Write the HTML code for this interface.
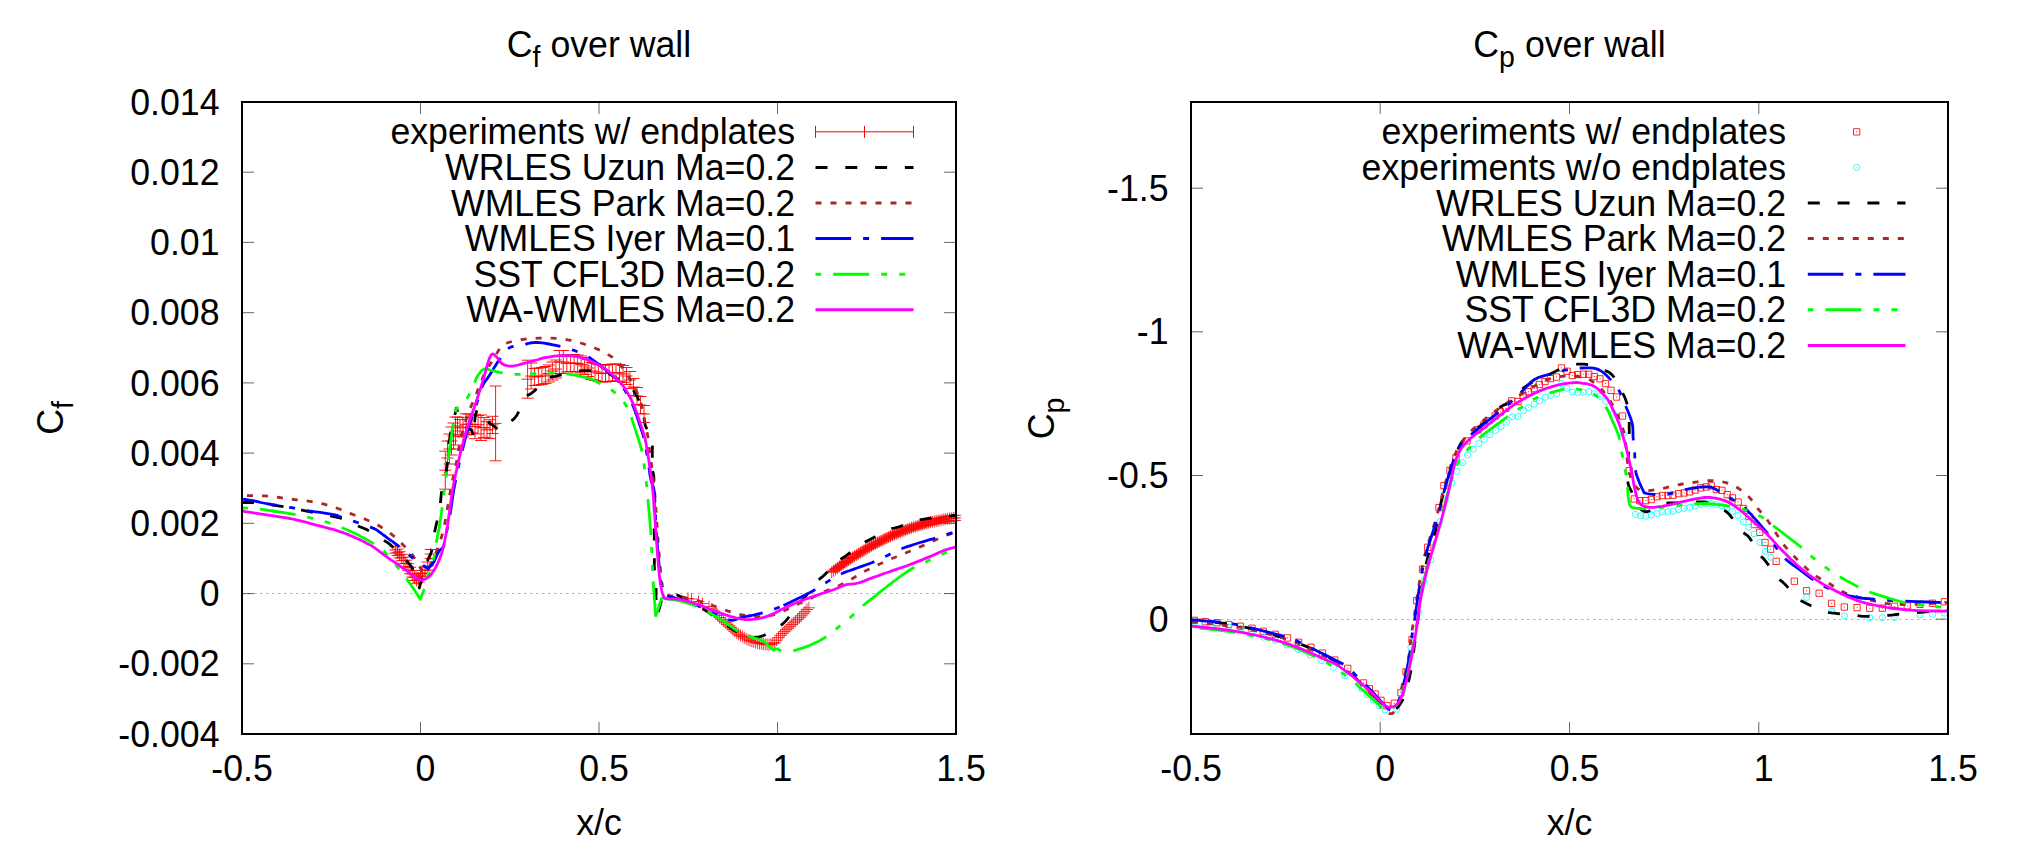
<!DOCTYPE html>
<html><head><meta charset="utf-8"><title>Cf and Cp over wall</title>
<style>html,body{margin:0;padding:0;background:#fff;}svg{display:block;}text{font-family:"Liberation Sans", Arial, sans-serif;font-size:35.7px;fill:#000;}</style>
</head><body>
<svg width="2019" height="858" viewBox="0 0 2019 858">
<rect width="2019" height="858" fill="#fff"/>
<defs><clipPath id="cl"><rect x="242" y="102" width="714" height="632"/></clipPath>
<clipPath id="cr"><rect x="1191" y="102" width="757" height="632"/></clipPath></defs>
<line x1="242" y1="593.5" x2="956" y2="593.5" stroke="#b4b4b4" stroke-width="1" stroke-dasharray="2.5,3.5"/>
<line x1="420.5" y1="734" x2="420.5" y2="722" stroke="#000" stroke-opacity="0.6" stroke-width="1"/>
<line x1="420.5" y1="102" x2="420.5" y2="114" stroke="#000" stroke-opacity="0.6" stroke-width="1"/>
<line x1="599.0" y1="734" x2="599.0" y2="722" stroke="#000" stroke-opacity="0.6" stroke-width="1"/>
<line x1="599.0" y1="102" x2="599.0" y2="114" stroke="#000" stroke-opacity="0.6" stroke-width="1"/>
<line x1="777.5" y1="734" x2="777.5" y2="722" stroke="#000" stroke-opacity="0.6" stroke-width="1"/>
<line x1="777.5" y1="102" x2="777.5" y2="114" stroke="#000" stroke-opacity="0.6" stroke-width="1"/>
<line x1="242" y1="172.2" x2="254" y2="172.2" stroke="#000" stroke-opacity="0.6" stroke-width="1"/>
<line x1="956" y1="172.2" x2="944" y2="172.2" stroke="#000" stroke-opacity="0.6" stroke-width="1"/>
<line x1="242" y1="242.4" x2="254" y2="242.4" stroke="#000" stroke-opacity="0.6" stroke-width="1"/>
<line x1="956" y1="242.4" x2="944" y2="242.4" stroke="#000" stroke-opacity="0.6" stroke-width="1"/>
<line x1="242" y1="312.7" x2="254" y2="312.7" stroke="#000" stroke-opacity="0.6" stroke-width="1"/>
<line x1="956" y1="312.7" x2="944" y2="312.7" stroke="#000" stroke-opacity="0.6" stroke-width="1"/>
<line x1="242" y1="382.9" x2="254" y2="382.9" stroke="#000" stroke-opacity="0.6" stroke-width="1"/>
<line x1="956" y1="382.9" x2="944" y2="382.9" stroke="#000" stroke-opacity="0.6" stroke-width="1"/>
<line x1="242" y1="453.1" x2="254" y2="453.1" stroke="#000" stroke-opacity="0.6" stroke-width="1"/>
<line x1="956" y1="453.1" x2="944" y2="453.1" stroke="#000" stroke-opacity="0.6" stroke-width="1"/>
<line x1="242" y1="523.3" x2="254" y2="523.3" stroke="#000" stroke-opacity="0.6" stroke-width="1"/>
<line x1="956" y1="523.3" x2="944" y2="523.3" stroke="#000" stroke-opacity="0.6" stroke-width="1"/>
<line x1="242" y1="593.6" x2="254" y2="593.6" stroke="#000" stroke-opacity="0.6" stroke-width="1"/>
<line x1="956" y1="593.6" x2="944" y2="593.6" stroke="#000" stroke-opacity="0.6" stroke-width="1"/>
<line x1="242" y1="663.8" x2="254" y2="663.8" stroke="#000" stroke-opacity="0.6" stroke-width="1"/>
<line x1="956" y1="663.8" x2="944" y2="663.8" stroke="#000" stroke-opacity="0.6" stroke-width="1"/>
<text transform="translate(242.0,781) scale(1.0,1.06)" text-anchor="middle" xml:space="preserve">-0.5</text>
<text transform="translate(420.5,781) scale(1.0,1.06)" text-anchor="middle" xml:space="preserve"> 0</text>
<text transform="translate(599.0,781) scale(1.0,1.06)" text-anchor="middle" xml:space="preserve"> 0.5</text>
<text transform="translate(777.5,781) scale(1.0,1.06)" text-anchor="middle" xml:space="preserve"> 1</text>
<text transform="translate(956.0,781) scale(1.0,1.06)" text-anchor="middle" xml:space="preserve"> 1.5</text>
<text transform="translate(219.5,114.6) scale(1.0,1.06)" text-anchor="end" xml:space="preserve">0.014</text>
<text transform="translate(219.5,184.8) scale(1.0,1.06)" text-anchor="end" xml:space="preserve">0.012</text>
<text transform="translate(219.5,255.0) scale(1.0,1.06)" text-anchor="end" xml:space="preserve">0.01</text>
<text transform="translate(219.5,325.3) scale(1.0,1.06)" text-anchor="end" xml:space="preserve">0.008</text>
<text transform="translate(219.5,395.5) scale(1.0,1.06)" text-anchor="end" xml:space="preserve">0.006</text>
<text transform="translate(219.5,465.7) scale(1.0,1.06)" text-anchor="end" xml:space="preserve">0.004</text>
<text transform="translate(219.5,535.9) scale(1.0,1.06)" text-anchor="end" xml:space="preserve">0.002</text>
<text transform="translate(219.5,606.2) scale(1.0,1.06)" text-anchor="end" xml:space="preserve">0</text>
<text transform="translate(219.5,676.4) scale(1.0,1.06)" text-anchor="end" xml:space="preserve">-0.002</text>
<text transform="translate(219.5,746.6) scale(1.0,1.06)" text-anchor="end" xml:space="preserve">-0.004</text>
<text transform="translate(599,57) scale(1.0,1.06)" text-anchor="middle" xml:space="preserve">C<tspan font-size="28.5" dy="9.5">f</tspan><tspan dy="-9.5"> over wall</tspan></text>
<text transform="translate(62.5,418) rotate(-90) scale(1.0,1.06)" text-anchor="middle" xml:space="preserve">C<tspan font-size="28.5" dy="9.5">f</tspan></text>
<text transform="translate(599,835) scale(1.0,1.06)" text-anchor="middle" xml:space="preserve">x/c</text>
<path d="M389.4,550.0h12.0M395.4,544.0v12.0M389.4,546.8h12.0M389.4,553.2h12.0M391.5,552.4h12.0M397.5,546.4v12.0M391.5,549.2h12.0M391.5,555.6h12.0M393.6,554.9h12.0M399.6,548.9v12.0M393.6,551.7h12.0M393.6,558.1h12.0M395.7,557.5h12.0M401.7,551.5v12.0M395.7,554.3h12.0M395.7,560.7h12.0M397.8,560.4h12.0M403.8,554.4v12.0M397.8,557.2h12.0M397.8,563.6h12.0M399.9,563.4h12.0M405.9,557.4v12.0M399.9,560.2h12.0M399.9,566.6h12.0M402.0,566.9h12.0M408.0,560.9v12.0M402.0,563.7h12.0M402.0,570.1h12.0M404.1,570.5h12.0M410.1,564.5v12.0M404.1,567.3h12.0M404.1,573.7h12.0M406.2,573.9h12.0M412.2,567.9v12.0M406.2,570.7h12.0M406.2,577.1h12.0M408.3,577.2h12.0M414.3,571.2v12.0M408.3,574.0h12.0M408.3,580.4h12.0M410.4,580.5h12.0M416.4,574.5v12.0M410.4,577.3h12.0M410.4,583.7h12.0M412.5,579.0h12.0M418.5,573.0v12.0M412.5,575.8h12.0M412.5,582.2h12.0M414.5,576.0h12.0M420.5,570.0v12.0M414.5,572.8h12.0M414.5,579.2h12.0M416.5,573.5h12.0M422.5,567.5v12.0M416.5,570.3h12.0M416.5,576.7h12.0M419.0,570.5h12.0M425.0,564.5v12.0M419.0,567.0h12.0M419.0,574.0h12.0M421.6,566.0h12.0M427.6,560.0v12.0M421.6,562.0h12.0M421.6,570.0h12.0M424.7,554.0h12.0M430.7,548.0v12.0M424.7,549.5h12.0M424.7,558.5h12.0M439.3,470.2h12.0M445.3,451.2v38.0M439.3,451.2h12.0M439.3,489.2h12.0M441.5,458.0h12.0M447.5,441.0v34.0M441.5,441.0h12.0M441.5,475.0h12.0M443.5,449.0h12.0M449.5,434.0v30.0M443.5,434.0h12.0M443.5,464.0h12.0M445.5,441.0h12.0M451.5,427.0v28.0M445.5,427.0h12.0M445.5,455.0h12.0M447.5,436.0h12.0M453.5,423.0v26.0M447.5,423.0h12.0M447.5,449.0h12.0M449.5,431.0h12.0M455.5,417.0v28.0M449.5,417.0h12.0M449.5,445.0h12.0M451.5,425.9h12.0M457.5,417.2v17.5M451.5,417.2h12.0M451.5,434.7h12.0M454.0,427.9h12.0M460.0,419.5v16.7M454.0,419.5h12.0M454.0,436.3h12.0M457.0,427.2h12.0M463.0,417.4v19.7M457.0,417.4h12.0M457.0,437.0h12.0M460.0,424.3h12.0M466.0,413.8v21.1M460.0,413.8h12.0M460.0,434.9h12.0M463.0,424.2h12.0M469.0,414.1v20.3M463.0,414.1h12.0M463.0,434.4h12.0M466.0,424.4h12.0M472.0,416.0v16.9M466.0,416.0h12.0M466.0,432.9h12.0M469.0,426.5h12.0M475.0,414.4v24.3M469.0,414.4h12.0M469.0,438.7h12.0M472.0,424.7h12.0M478.0,415.6v18.2M472.0,415.6h12.0M472.0,433.9h12.0M475.0,427.8h12.0M481.0,415.0v25.5M475.0,415.0h12.0M475.0,440.5h12.0M478.0,427.5h12.0M484.0,417.5v20.0M478.0,417.5h12.0M478.0,437.4h12.0M481.0,429.9h12.0M487.0,421.6v16.5M481.0,421.6h12.0M481.0,438.1h12.0M484.0,429.2h12.0M490.0,419.7v18.9M484.0,419.7h12.0M484.0,438.6h12.0M486.5,424.9h12.0M492.5,416.3v17.2M486.5,416.3h12.0M486.5,433.5h12.0M489.6,423.4h12.0M495.6,386.0v74.8M489.6,386.0h12.0M489.6,460.8h12.0M521.6,379.2h12.0M527.6,360.2v38.0M521.6,360.2h12.0M521.6,398.2h12.0M525.1,376.0h12.0M531.1,363.0v26.0M525.1,363.0h12.0M525.1,389.0h12.0M528.6,377.0h12.0M534.6,368.5v17.0M528.6,368.5h12.0M528.6,385.5h12.0M532.4,376.5h12.0M538.4,368.0v17.0M532.4,368.0h12.0M532.4,385.0h12.0M535.9,376.0h12.0M541.9,367.5v17.0M535.9,367.5h12.0M535.9,384.5h12.0M539.4,375.0h12.0M545.4,366.5v17.0M539.4,366.5h12.0M539.4,383.5h12.0M542.9,373.5h12.0M548.9,365.0v17.0M542.9,365.0h12.0M542.9,382.0h12.0M546.4,371.0h12.0M552.4,362.0v18.0M546.4,362.0h12.0M546.4,380.0h12.0M549.9,369.0h12.0M555.9,360.0v18.0M549.9,360.0h12.0M549.9,378.0h12.0M553.4,362.0h12.0M559.4,350.5v23.0M553.4,350.5h12.0M553.4,373.5h12.0M557.3,362.0h12.0M563.3,350.5v23.0M557.3,350.5h12.0M557.3,373.5h12.0M560.8,363.5h12.0M566.8,355.0v17.0M560.8,355.0h12.0M560.8,372.0h12.0M564.6,363.0h12.0M570.6,354.5v17.0M564.6,354.5h12.0M564.6,371.5h12.0M568.1,363.0h12.0M574.1,354.5v17.0M568.1,354.5h12.0M568.1,371.5h12.0M571.6,363.5h12.0M577.6,355.0v17.0M571.6,355.0h12.0M571.6,372.0h12.0M575.1,364.5h12.0M581.1,356.0v17.0M575.1,356.0h12.0M575.1,373.0h12.0M578.6,366.0h12.0M584.6,357.5v17.0M578.6,357.5h12.0M578.6,374.5h12.0M582.0,368.0h12.0M588.0,359.5v17.0M582.0,359.5h12.0M582.0,376.5h12.0M585.6,371.0h12.0M591.6,362.5v17.0M585.6,362.5h12.0M585.6,379.5h12.0M589.0,372.0h12.0M595.0,363.5v17.0M589.0,363.5h12.0M589.0,380.5h12.0M592.5,373.0h12.0M598.5,364.5v17.0M592.5,364.5h12.0M592.5,381.5h12.0M596.0,373.5h12.0M602.0,365.0v17.0M596.0,365.0h12.0M596.0,382.0h12.0M599.5,373.5h12.0M605.5,365.0v17.0M599.5,365.0h12.0M599.5,382.0h12.0M603.0,373.0h12.0M609.0,364.5v17.0M603.0,364.5h12.0M603.0,381.5h12.0M606.5,372.5h12.0M612.5,364.0v17.0M606.5,364.0h12.0M606.5,381.0h12.0M610.0,372.5h12.0M616.0,364.0v17.0M610.0,364.0h12.0M610.0,381.0h12.0M613.5,373.0h12.0M619.5,364.5v17.0M613.5,364.5h12.0M613.5,381.5h12.0M617.0,374.0h12.0M623.0,365.5v17.0M617.0,365.5h12.0M617.0,382.5h12.0M620.5,376.0h12.0M626.5,367.5v17.0M620.5,367.5h12.0M620.5,384.5h12.0M624.0,380.0h12.0M630.0,371.5v17.0M624.0,371.5h12.0M624.0,388.5h12.0M627.5,387.0h12.0M633.5,378.5v17.0M627.5,378.5h12.0M627.5,395.5h12.0M631.0,396.0h12.0M637.0,387.5v17.0M631.0,387.5h12.0M631.0,404.5h12.0M634.5,405.0h12.0M640.5,396.5v17.0M634.5,396.5h12.0M634.5,413.5h12.0M638.0,414.0h12.0M644.0,405.5v17.0M638.0,405.5h12.0M638.0,422.5h12.0" fill="none" stroke="#ff0000" stroke-width="0.9"/>
<path d="M682.0,598.5h12.0M688.0,592.5v12.0M685.5,599.0h12.0M691.5,593.0v12.0M692.5,601.5h12.0M698.5,595.5v12.0M696.5,603.5h12.0M702.5,597.5v12.0M703.0,606.5h12.0M709.0,600.5v12.0M706.0,609.0h12.0M712.0,603.0v12.0M707.9,611.1h12.0M713.9,605.1v12.0M709.8,613.3h12.0M715.8,607.3v12.0M711.7,615.4h12.0M717.7,609.4v12.0M713.6,617.5h12.0M719.6,611.5v12.0M715.5,619.3h12.0M721.5,613.3v12.0M717.4,621.0h12.0M723.4,615.0v12.0M719.3,622.7h12.0M725.3,616.7v12.0M721.2,624.4h12.0M727.2,618.4v12.0M723.1,626.1h12.0M729.1,620.1v12.0M725.0,627.8h12.0M731.0,621.8v12.0M726.9,629.5h12.0M732.9,623.5v12.0M728.8,631.2h12.0M734.8,625.2v12.0M730.7,632.9h12.0M736.7,626.9v12.0M732.6,634.3h12.0M738.6,628.3v12.0M734.5,635.4h12.0M740.5,629.4v12.0M736.4,636.5h12.0M742.4,630.5v12.0M738.3,637.7h12.0M744.3,631.7v12.0M740.2,638.8h12.0M746.2,632.8v12.0M742.1,639.9h12.0M748.1,633.9v12.0M744.0,640.6h12.0M750.0,634.6v12.0M745.9,641.2h12.0M751.9,635.2v12.0M747.8,641.8h12.0M753.8,635.8v12.0M749.7,642.5h12.0M755.7,636.5v12.0M751.6,643.1h12.0M757.6,637.1v12.0M753.5,643.5h12.0M759.5,637.5v12.0M755.4,643.8h12.0M761.4,637.8v12.0M757.3,644.0h12.0M763.3,638.0v12.0M759.2,644.3h12.0M765.2,638.3v12.0M761.1,644.5h12.0M767.1,638.5v12.0M763.0,644.8h12.0M769.0,638.8v12.0M764.9,644.2h12.0M770.9,638.2v12.0M766.8,643.6h12.0M772.8,637.6v12.0M768.7,642.7h12.0M774.7,636.7v12.0M770.6,640.2h12.0M776.6,634.2v12.0M772.5,637.6h12.0M778.5,631.6v12.0M774.4,635.4h12.0M780.4,629.4v12.0M776.3,633.5h12.0M782.3,627.5v12.0M778.2,631.6h12.0M784.2,625.6v12.0M780.1,629.7h12.0M786.1,623.7v12.0M782.0,628.0h12.0M788.0,622.0v12.0M783.9,626.3h12.0M789.9,620.3v12.0M785.8,624.5h12.0M791.8,618.5v12.0M787.7,622.8h12.0M793.7,616.8v12.0M789.6,621.1h12.0M795.6,615.1v12.0M791.5,619.4h12.0M797.5,613.4v12.0M793.4,617.7h12.0M799.4,611.7v12.0M795.3,615.8h12.0M801.3,609.8v12.0M797.2,613.7h12.0M803.2,607.7v12.0M799.1,611.6h12.0M805.1,605.6v12.0M801.0,609.5h12.0M807.0,603.5v12.0M802.9,607.8h12.0M808.9,601.8v12.0M825.7,572.3h12.0M831.7,566.3v12.0M827.6,570.9h12.0M833.6,564.9v12.0M827.6,570.1h12.0M827.6,571.6h12.0M829.5,569.4h12.0M835.5,563.4v12.0M829.5,568.6h12.0M829.5,570.2h12.0M831.4,568.0h12.0M837.4,562.0v12.0M831.4,567.1h12.0M831.4,568.8h12.0M833.3,566.5h12.0M839.3,560.5v12.0M833.3,565.6h12.0M833.3,567.5h12.0M835.2,565.2h12.0M841.2,559.2v12.0M835.2,564.2h12.0M835.2,566.1h12.0M837.1,563.9h12.0M843.1,557.9v12.0M837.1,562.9h12.0M837.1,564.9h12.0M839.0,562.6h12.0M845.0,556.6v12.0M839.0,561.5h12.0M839.0,563.6h12.0M840.9,561.3h12.0M846.9,555.3v12.0M840.9,560.2h12.0M840.9,562.4h12.0M842.8,560.0h12.0M848.8,554.0v12.0M842.8,558.8h12.0M842.8,561.1h12.0M844.7,558.7h12.0M850.7,552.7v12.0M844.7,557.5h12.0M844.7,559.9h12.0M846.6,557.4h12.0M852.6,551.4v12.0M846.6,556.1h12.0M846.6,558.6h12.0M848.5,556.1h12.0M854.5,550.1v12.0M848.5,554.8h12.0M848.5,557.3h12.0M850.4,554.9h12.0M856.4,548.9v12.0M850.4,553.6h12.0M850.4,556.2h12.0M852.3,553.8h12.0M858.3,547.8v12.0M852.3,552.4h12.0M852.3,555.1h12.0M854.2,552.6h12.0M860.2,546.6v12.0M854.2,551.3h12.0M854.2,554.0h12.0M856.1,551.5h12.0M862.1,545.5v12.0M856.1,550.1h12.0M856.1,552.9h12.0M858.0,550.4h12.0M864.0,544.4v12.0M858.0,548.9h12.0M858.0,551.8h12.0M859.9,549.2h12.0M865.9,543.2v12.0M859.9,547.7h12.0M859.9,550.7h12.0M861.8,548.1h12.0M867.8,542.1v12.0M861.8,546.5h12.0M861.8,549.6h12.0M863.7,547.0h12.0M869.7,541.0v12.0M863.7,545.4h12.0M863.7,548.5h12.0M865.6,545.8h12.0M871.6,539.8v12.0M865.6,544.2h12.0M865.6,547.4h12.0M867.5,544.7h12.0M873.5,538.7v12.0M867.5,543.0h12.0M867.5,546.4h12.0M869.4,543.7h12.0M875.4,537.7v12.0M869.4,542.0h12.0M869.4,545.4h12.0M871.3,542.8h12.0M877.3,536.8v12.0M871.3,541.1h12.0M871.3,544.5h12.0M873.2,541.8h12.0M879.2,535.8v12.0M873.2,540.1h12.0M873.2,543.6h12.0M875.1,540.9h12.0M881.1,534.9v12.0M875.1,539.1h12.0M875.1,542.7h12.0M877.0,539.9h12.0M883.0,533.9v12.0M877.0,538.1h12.0M877.0,541.7h12.0M878.9,538.9h12.0M884.9,532.9v12.0M878.9,537.1h12.0M878.9,540.8h12.0M880.8,538.0h12.0M886.8,532.0v12.0M880.8,536.1h12.0M880.8,539.9h12.0M882.7,537.0h12.0M888.7,531.0v12.0M882.7,535.1h12.0M882.7,538.9h12.0M884.6,536.1h12.0M890.6,530.1v12.0M884.6,534.1h12.0M884.6,538.0h12.0M886.5,535.2h12.0M892.5,529.2v12.0M886.5,533.2h12.0M886.5,537.1h12.0M888.4,534.4h12.0M894.4,528.4v12.0M888.4,532.4h12.0M888.4,536.4h12.0M890.3,533.7h12.0M896.3,527.7v12.0M890.3,531.6h12.0M890.3,535.7h12.0M892.2,532.9h12.0M898.2,526.9v12.0M892.2,530.8h12.0M892.2,535.0h12.0M894.1,532.2h12.0M900.1,526.2v12.0M894.1,530.1h12.0M894.1,534.2h12.0M896.0,531.4h12.0M902.0,525.4v12.0M896.0,529.3h12.0M896.0,533.5h12.0M897.9,530.7h12.0M903.9,524.7v12.0M897.9,528.5h12.0M897.9,532.8h12.0M899.8,529.9h12.0M905.8,523.9v12.0M899.8,527.7h12.0M899.8,532.1h12.0M901.7,529.1h12.0M907.7,523.1v12.0M901.7,527.0h12.0M901.7,531.3h12.0M903.6,528.4h12.0M909.6,522.4v12.0M903.6,526.2h12.0M903.6,530.6h12.0M905.5,527.7h12.0M911.5,521.7v12.0M905.5,525.5h12.0M905.5,530.0h12.0M907.4,527.2h12.0M913.4,521.2v12.0M907.4,524.9h12.0M907.4,529.4h12.0M909.3,526.6h12.0M915.3,520.6v12.0M909.3,524.3h12.0M909.3,528.9h12.0M911.2,526.0h12.0M917.2,520.0v12.0M911.2,523.7h12.0M911.2,528.3h12.0M913.1,525.4h12.0M919.1,519.4v12.0M913.1,523.1h12.0M913.1,527.8h12.0M915.0,524.9h12.0M921.0,518.9v12.0M915.0,522.5h12.0M915.0,527.2h12.0M916.9,524.3h12.0M922.9,518.3v12.0M916.9,521.9h12.0M916.9,526.7h12.0M918.8,523.7h12.0M924.8,517.7v12.0M918.8,521.3h12.0M918.8,526.1h12.0M920.7,523.2h12.0M926.7,517.2v12.0M920.7,520.8h12.0M920.7,525.5h12.0M922.6,522.6h12.0M928.6,516.6v12.0M922.6,520.2h12.0M922.6,525.0h12.0M924.5,522.1h12.0M930.5,516.1v12.0M924.5,519.7h12.0M924.5,524.6h12.0M926.4,521.8h12.0M932.4,515.8v12.0M926.4,519.3h12.0M926.4,524.2h12.0M928.3,521.4h12.0M934.3,515.4v12.0M928.3,518.9h12.0M928.3,523.8h12.0M930.2,521.0h12.0M936.2,515.0v12.0M930.2,518.5h12.0M930.2,523.5h12.0M932.1,520.6h12.0M938.1,514.6v12.0M932.1,518.2h12.0M932.1,523.1h12.0M934.0,520.3h12.0M940.0,514.3v12.0M934.0,517.8h12.0M934.0,522.8h12.0M935.9,519.9h12.0M941.9,513.9v12.0M935.9,517.4h12.0M935.9,522.4h12.0M937.8,519.5h12.0M943.8,513.5v12.0M937.8,517.0h12.0M937.8,522.0h12.0M939.7,519.1h12.0M945.7,513.1v12.0M939.7,516.6h12.0M939.7,521.7h12.0M941.6,518.8h12.0M947.6,512.8v12.0M941.6,516.2h12.0M941.6,521.3h12.0M943.5,518.5h12.0M949.5,512.5v12.0M943.5,515.9h12.0M943.5,521.1h12.0M945.4,518.3h12.0M951.4,512.3v12.0M945.4,515.7h12.0M945.4,520.8h12.0M947.3,518.0h12.0M953.3,512.0v12.0M947.3,515.5h12.0M947.3,520.6h12.0M949.2,517.8h12.0M955.2,511.8v12.0M949.2,515.2h12.0M949.2,520.4h12.0" fill="none" stroke="#ff0000" stroke-width="0.8"/>
<path d="M242.0,502.7 L243.2,502.6 L244.8,502.5 L246.9,502.4 L249.6,502.5 L253.0,502.7 L257.4,503.2 L262.8,503.8 L268.7,504.6 L274.6,505.4 L280.0,506.2 L284.7,506.9 L289.1,507.7 L293.3,508.4 L297.9,509.3 L303.0,510.3 L309.3,511.6 L316.4,513.1 L323.7,514.6 L330.2,516.0 L335.0,517.0 L337.5,517.5 L338.3,517.5 L338.4,517.4 L338.6,517.4 L340.0,518.0 L342.9,519.2 L346.7,520.9 L350.8,522.7 L354.7,524.5 L358.0,526.0 L360.4,527.0 L362.1,527.6 L363.7,528.2 L365.4,529.0 L367.6,530.1 L370.5,531.8 L373.8,533.8 L377.3,536.0 L380.6,538.2 L383.4,540.0 L385.5,541.4 L387.2,542.4 L388.6,543.4 L390.2,544.6 L392.1,546.2 L394.6,548.5 L397.5,551.3 L400.4,554.3 L403.2,557.1 L405.5,559.6 L407.3,561.5 L408.7,563.2 L409.8,564.6 L410.9,566.1 L412.0,567.8 L413.1,569.7 L414.2,571.7 L415.3,573.8 L416.2,575.9 L417.0,578.0 L417.7,580.2 L418.2,582.5 L418.7,584.7 L419.0,586.6 L419.3,588.0 L419.5,587.2 L419.8,586.1 L420.1,584.8 L420.5,583.4 L421.0,581.8 L421.5,580.1 L422.1,578.2 L422.7,576.2 L423.3,574.1 L424.0,572.0 L424.7,569.7 L425.4,567.3 L426.2,564.9 L426.9,562.5 L427.7,560.2 L428.5,558.2 L429.4,556.5 L430.2,554.8 L431.1,552.8 L431.8,550.3 L432.5,547.0 L433.1,543.1 L433.6,539.0 L434.2,535.0 L434.7,531.7 L435.2,529.2 L435.6,527.3 L436.0,525.6 L436.5,523.7 L437.0,521.2 L437.6,517.9 L438.4,514.0 L439.1,510.0 L439.8,506.1 L440.4,502.8 L440.7,500.4 L440.9,498.5 L441.0,496.9 L441.2,494.9 L441.6,492.3 L442.4,488.6 L443.4,484.0 L444.4,479.3 L445.4,474.8 L446.2,471.3 L446.6,469.1 L446.9,467.8 L447.0,466.8 L447.2,465.5 L447.4,463.1 L447.8,459.3 L448.2,454.5 L448.6,449.4 L449.0,444.3 L449.5,440.0 L450.0,436.4 L450.5,433.1 L451.0,430.2 L451.5,427.5 L452.0,425.0 L452.5,422.8 L453.0,420.9 L453.5,419.3 L454.0,417.7 L454.5,416.0 L455.0,414.1 L455.4,412.2 L455.9,410.3 L456.2,408.6 L456.5,407.5" fill="none" stroke="#000000" stroke-width="2.8" stroke-linejoin="round" stroke-dasharray="12,17.8" clip-path="url(#cl)"/>
<path d="M456.5,407.5 L456.8,408.7 L457.1,410.4 L457.6,412.3 L458.1,414.3 L458.7,416.2 L459.3,418.0 L459.8,419.8 L460.5,421.6 L461.3,423.3 L462.4,424.8 L464.0,426.1 L466.0,427.1 L468.1,428.1 L470.1,429.1 L471.5,430.3 L472.3,431.7 L472.7,433.4 L472.9,435.1 L472.9,436.5 L473.0,437.5 L473.2,436.1 L473.4,434.1 L473.7,431.7 L474.0,429.3 L474.3,427.0 L474.5,424.8 L474.6,422.6 L474.8,420.4 L475.0,418.3 L475.3,416.4 L475.7,414.5 L476.2,412.5 L476.8,410.7 L477.4,409.6 L478.3,409.3 L479.3,410.2 L480.5,412.2 L481.9,414.7 L483.3,417.2 L484.8,419.2 L486.4,420.8 L488.3,422.2 L490.1,423.5 L491.9,424.7 L493.5,425.8 L494.9,426.9 L496.3,428.0 L497.5,429.0 L498.6,429.9 L499.3,430.5 L500.1,429.9 L501.3,429.0 L502.6,427.9 L503.9,426.9 L505.0,426.0 L505.8,425.3 L506.5,424.8 L507.1,424.3 L507.9,423.7 L508.9,422.8 L510.2,421.8 L511.7,420.7 L513.3,419.4 L515.0,417.7 L516.7,415.5 L518.3,412.5 L520.0,408.7 L521.7,404.7 L523.4,400.9 L525.1,398.0 L526.7,396.1 L528.2,395.0 L529.8,394.2 L531.5,393.2 L533.5,391.7 L536.0,389.4 L538.8,386.5 L541.8,383.5 L544.7,380.8 L547.3,378.7 L549.4,377.5 L551.1,376.9 L552.8,376.6 L554.7,376.4 L557.1,375.9 L560.3,375.1 L564.1,374.2 L568.1,373.2 L572.0,372.4 L575.3,371.7 L577.9,371.2 L579.9,370.9 L581.9,370.7 L583.9,370.6 L586.5,370.6 L589.9,370.7 L593.8,371.0 L597.8,371.4 L601.6,371.9 L604.7,372.4 L606.9,372.9 L608.3,373.4 L609.5,373.9 L610.9,374.8 L613.0,376.0 L616.0,377.8 L619.6,380.0 L623.4,382.4 L627.0,384.9 L629.9,387.1 L631.9,388.9 L633.5,390.5 L634.6,392.1 L635.7,393.9 L636.9,396.2 L638.3,399.3 L639.6,402.9 L641.0,406.8 L642.1,410.5 L643.1,413.7 L643.7,416.4 L644.1,418.7 L644.4,420.8 L644.7,422.8 L645.2,424.9 L646.0,427.1 L647.0,429.2 L648.1,431.3 L649.1,433.3 L650.0,435.0 L650.7,436.4 L651.3,437.5 L651.8,438.5 L652.2,439.6 L652.5,441.0 L652.6,442.5 L652.6,444.1 L652.5,445.9 L652.4,448.0 L652.3,450.7 L652.3,454.4 L652.4,459.1 L652.4,463.9 L652.5,468.2 L652.5,471.1" fill="none" stroke="#000000" stroke-width="2.8" stroke-linejoin="round" stroke-dasharray="12,17.8" stroke-dashoffset="7.5" clip-path="url(#cl)"/>
<path d="M652.5,471.1 L652.7,471.9 L653.1,472.7 L653.4,474.1 L653.8,476.5 L654.0,480.4 L654.1,486.4 L654.2,494.1 L654.2,502.8 L654.2,511.7 L654.2,520.0 L654.2,528.2 L654.3,536.9 L654.3,545.2 L654.4,552.7 L654.4,558.5 L654.4,562.1 L654.3,564.0 L654.3,565.1 L654.3,566.2 L654.4,568.3 L654.6,571.7 L655.0,575.9 L655.4,580.3 L655.8,584.5 L656.0,587.9 L656.1,590.4 L656.1,592.2 L656.0,593.8 L656.0,595.5 L656.0,597.7 L656.2,600.7 L656.4,604.3 L656.6,608.0 L656.8,611.3 L657.0,613.5" fill="none" stroke="#000000" stroke-width="2.8" stroke-linejoin="round" stroke-dasharray="12,17.8" stroke-dashoffset="2" clip-path="url(#cl)"/>
<path d="M657.0,613.5 L657.2,613.3 L657.4,613.2 L657.7,612.9 L658.0,612.4 L658.4,611.5 L658.8,610.1 L659.3,608.3 L659.9,606.3 L660.4,604.3 L660.9,602.6 L661.3,601.2 L661.7,599.9 L662.0,598.8 L662.5,597.8 L663.0,597.0 L663.6,596.3 L664.3,595.8 L665.0,595.5 L665.9,595.2 L667.0,595.0 L668.4,594.9 L670.2,594.8 L672.0,594.8 L673.7,594.9 L675.2,595.0 L676.1,595.0 L676.6,594.9 L677.0,595.0 L677.9,595.3 L679.8,596.2 L682.8,597.6 L686.5,599.5 L690.8,601.8 L695.4,604.3 L700.0,607.0 L704.9,610.2 L710.4,613.9 L715.9,617.7 L720.9,621.2 L725.0,624.0 L727.9,626.0 L729.9,627.4 L731.4,628.5 L732.9,629.5 L734.6,630.6 L736.7,631.8 L738.8,633.0 L740.9,634.2 L743.0,635.2 L745.0,636.0 L746.8,636.6 L748.6,636.9 L750.2,637.2 L751.9,637.3 L753.6,637.3 L755.4,637.2 L757.2,637.1 L759.1,636.8 L760.9,636.4 L762.6,635.9 L764.2,635.3 L765.6,634.6 L767.1,633.8 L768.5,632.9 L770.0,632.0 L771.6,631.1 L773.3,630.2 L774.9,629.3 L776.6,628.2 L778.3,627.1 L779.9,626.0 L781.4,624.9 L782.9,623.7 L784.6,622.1 L786.5,620.1 L788.8,617.2 L791.4,613.6 L794.1,609.8 L796.6,606.3 L798.7,603.5 L800.1,601.9 L801.1,601.0 L801.8,600.4 L802.8,599.6 L804.2,598.0 L806.3,595.4 L808.8,592.0 L811.5,588.4 L814.1,584.9 L816.4,582.1 L818.2,580.2 L819.8,578.8 L821.3,577.6 L822.9,576.3 L824.8,574.6 L827.2,572.2 L829.9,569.5 L832.7,566.6 L835.4,563.8 L837.8,561.6 L839.7,560.0 L841.2,558.9 L842.6,558.0 L844.2,557.0 L846.2,555.6 L848.8,553.6 L851.9,551.2 L855.2,548.7 L858.3,546.4 L861.1,544.4 L863.4,543.0 L865.2,541.9 L867.0,541.0 L869.0,540.0 L871.4,538.8 L874.4,537.1 L878.0,535.1 L881.6,533.1 L885.2,531.3 L888.2,529.8 L890.5,528.9 L892.4,528.4 L894.1,528.1 L896.0,527.7 L898.4,527.0 L901.6,525.9 L905.3,524.6 L909.2,523.2 L912.9,521.9 L916.2,520.9 L918.7,520.2 L920.8,519.7 L922.7,519.4 L924.8,519.1 L927.4,518.7 L930.8,518.2 L934.7,517.7 L938.8,517.2 L942.7,516.8 L946.0,516.4 L948.7,516.1 L951.1,515.8 L953.1,515.5 L954.8,515.3 L956.0,515.2" fill="none" stroke="#000000" stroke-width="2.8" stroke-linejoin="round" stroke-dasharray="12,17.8" stroke-dashoffset="27.8" clip-path="url(#cl)"/>
<path d="M247.0,495.7 L249.4,495.7 L252.9,495.7 L256.9,495.7 L260.9,495.8 L264.5,495.9 L267.6,496.1 L270.5,496.4 L273.3,496.8 L276.1,497.1 L279.0,497.5 L281.9,497.9 L284.9,498.3 L287.9,498.7 L290.8,499.1 L293.8,499.5 L296.7,499.8 L299.7,500.2 L302.6,500.5 L305.6,500.8 L308.5,501.2 L311.4,501.6 L314.3,502.1 L317.2,502.6 L320.1,503.2 L323.0,503.9 L325.9,504.7 L328.8,505.5 L331.7,506.4 L334.5,507.3 L337.3,508.3 L340.0,509.3 L342.7,510.4 L345.3,511.4 L348.0,512.5 L350.7,513.6 L353.5,514.7 L356.4,515.7 L359.3,516.8 L362.1,517.9 L364.9,519.0 L367.6,520.2 L370.3,521.4 L372.9,522.6 L375.5,523.9 L378.1,525.3 L380.6,526.8 L383.1,528.3 L385.6,529.9 L388.0,531.6 L390.4,533.4 L392.7,535.2 L395.0,537.2 L397.2,539.2 L399.3,541.2 L401.5,543.3 L403.7,545.4 L405.9,547.6 L408.0,549.8 L410.1,552.1 L412.0,554.4 L413.7,556.9 L415.3,559.5 L416.8,562.2 L418.2,564.6 L419.5,566.6 L420.7,568.4 L421.7,570.2 L422.7,571.5 L423.7,572.2 L425.0,572.0 L426.5,570.6 L428.3,568.1 L430.1,565.1 L431.9,561.7 L433.5,558.5 L435.0,555.3 L436.3,551.8 L437.6,548.3 L438.8,544.8 L439.9,541.6 L440.9,538.8 L441.7,536.2 L442.5,533.7 L443.2,530.9 L444.0,527.6 L444.8,523.6 L445.6,519.1 L446.4,514.4 L447.2,509.6 L448.0,505.0 L448.8,500.5 L449.5,496.0 L450.3,491.5 L451.1,487.3 L451.8,483.5 L452.5,480.2 L453.3,477.2 L454.0,474.5 L454.7,471.8 L455.3,469.0 L455.8,466.1 L456.3,463.2 L456.8,460.2 L457.2,457.3 L457.7,454.4 L458.2,451.5 L458.8,448.5 L459.4,445.6 L460.0,442.7 L460.6,439.8 L461.3,437.0 L462.0,434.2 L462.7,431.4 L463.5,428.6 L464.3,425.8 L465.1,422.9 L466.0,420.0 L466.9,417.0 L467.9,414.1 L468.9,411.3 L470.0,408.6 L471.2,405.9 L472.4,403.3 L473.7,400.6 L474.8,398.0 L475.8,395.4 L476.8,392.7 L477.7,390.1 L478.6,387.5 L479.7,384.8 L480.8,382.1 L482.1,379.2 L483.3,376.4 L484.6,373.7 L486.0,371.0 L487.4,368.5 L488.9,366.1 L490.5,363.7 L492.1,361.3 L493.6,358.9 L495.2,356.3 L496.8,353.4 L498.4,350.7 L499.9,348.2 L501.3,346.3 L502.5,345.0 L503.6,344.3 L504.6,343.8 L505.7,343.4 L507.0,343.0 L508.4,342.5 L509.9,342.0 L511.5,341.6 L513.2,341.1 L515.3,340.7 L517.7,340.2 L520.4,339.8 L523.3,339.3 L526.3,338.9 L529.2,338.6 L532.1,338.4 L535.0,338.3 L537.9,338.2 L540.9,338.2 L543.8,338.2 L546.7,338.2 L549.6,338.2 L552.6,338.2 L555.5,338.3 L558.5,338.5 L561.6,338.8 L564.7,339.2 L567.8,339.8 L570.9,340.3 L573.9,341.0 L576.8,341.8 L579.6,342.6 L582.4,343.5 L585.2,344.5 L587.9,345.5 L590.6,346.5 L593.3,347.4 L596.0,348.5 L598.6,349.6 L601.2,350.8 L603.8,352.1 L606.4,353.6 L609.0,355.1 L611.5,356.7 L613.8,358.5 L616.0,360.4 L618.0,362.4 L620.0,364.5 L621.8,366.7 L623.6,369.0 L625.3,371.3 L626.9,373.8 L628.4,376.3 L629.8,378.9 L631.3,381.5 L632.8,384.2 L634.3,387.0 L635.7,389.8 L637.1,392.7 L638.3,395.5 L639.3,398.3 L640.2,401.1 L641.0,403.9 L641.7,406.7 L642.4,409.5 L643.0,412.3 L643.6,415.1 L644.1,417.9 L644.7,420.7 L645.2,423.5 L645.8,426.3 L646.4,429.0 L646.9,431.8 L647.5,434.6 L648.0,437.5 L648.4,440.5 L648.8,443.6 L649.2,446.7 L649.5,449.9 L649.9,453.0 L650.3,456.1 L650.7,459.3 L651.2,462.4 L651.6,465.6 L652.0,468.8 L652.4,471.9 L652.8,474.8 L653.2,477.9 L653.6,481.2 L654.0,485.0 L654.4,489.4 L654.8,494.1 L655.2,499.2 L655.6,504.5 L656.0,510.0 L656.4,515.8 L656.8,521.9 L657.2,528.1 L657.6,534.2 L658.0,540.0 L658.4,545.4 L658.8,550.6 L659.2,555.6 L659.6,560.4 L660.0,565.0 L660.4,569.5 L660.8,574.0 L661.3,578.2 L661.7,582.0 L662.3,585.2 L662.9,587.8 L663.6,589.9 L664.3,591.5 L665.1,592.9 L666.0,594.0 L667.0,594.9 L668.0,595.3 L669.2,595.6 L670.5,595.8 L672.0,596.0 L673.7,596.2 L675.5,596.4 L677.5,596.5 L679.7,596.7 L682.1,597.0 L684.8,597.5 L687.9,598.2 L691.1,598.9 L694.3,599.7 L697.3,600.5 L700.2,601.3 L703.0,602.2 L705.8,603.1 L708.5,604.0 L711.3,605.0 L714.1,606.0 L716.9,607.1 L719.7,608.2 L722.5,609.2 L725.3,610.2 L728.1,611.1 L730.9,612.0 L733.6,612.8 L736.5,613.6 L739.3,614.3 L742.2,614.9 L745.2,615.4 L748.1,615.9 L751.1,616.3 L754.0,616.5 L756.9,616.6 L759.7,616.7 L762.5,616.6 L765.4,616.4 L768.2,616.0 L771.1,615.4 L773.9,614.6 L776.8,613.6 L779.6,612.6 L782.4,611.5 L785.1,610.3 L787.8,609.0 L790.5,607.6 L793.1,606.3 L795.8,605.0 L798.5,603.8 L801.2,602.7 L803.9,601.5 L806.6,600.4 L809.2,599.2 L811.8,597.9 L814.3,596.6 L816.8,595.3 L819.4,594.0 L822.0,592.7 L824.7,591.5 L827.6,590.4 L830.4,589.4 L833.2,588.3 L836.0,587.1 L838.7,585.9 L841.3,584.6 L843.8,583.3 L846.4,582.0 L849.0,580.6 L851.6,579.1 L854.2,577.5 L856.9,575.8 L859.5,574.2 L862.1,572.7 L864.7,571.3 L867.3,570.0 L869.9,568.7 L872.5,567.5 L875.1,566.2 L877.7,564.9 L880.3,563.7 L882.9,562.5 L885.5,561.3 L888.2,560.1 L891.0,558.9 L893.8,557.8 L896.6,556.7 L899.4,555.6 L902.2,554.5 L904.8,553.4 L907.4,552.3 L910.0,551.2 L912.6,550.0 L915.2,548.9 L917.9,547.7 L920.7,546.6 L923.6,545.4 L926.4,544.1 L929.2,542.9 L932.0,541.6 L934.9,540.2 L937.7,538.9 L940.5,537.6 L943.2,536.4 L946.0,535.3 L949.0,534.3 L951.9,533.3 L954.3,532.6 L956.0,532.0" fill="none" stroke="#a52a2a" stroke-width="2.8" stroke-linejoin="round" stroke-dasharray="6,9" clip-path="url(#cl)"/>
<path d="M242.3,499.2 L243.5,499.3 L245.3,499.5 L247.3,499.8 L249.5,500.1 L251.7,500.4 L253.8,500.8 L256.1,501.3 L258.4,501.9 L260.8,502.5 L263.3,503.0 L265.9,503.5 L268.7,504.0 L271.6,504.5 L274.4,504.9 L277.3,505.4 L280.1,505.9 L283.0,506.3 L285.8,506.7 L288.6,507.2 L291.5,507.7 L294.3,508.2 L297.2,508.8 L300.0,509.4 L302.9,510.0 L305.9,510.5 L309.0,511.0 L312.2,511.4 L315.4,511.8 L318.5,512.2 L321.6,512.6 L324.7,513.1 L327.8,513.6 L330.8,514.1 L333.4,514.6 L335.6,515.0 L337.0,515.3 L337.6,515.6 L338.1,515.8 L338.8,516.2 L340.2,516.7 L342.5,517.5 L345.3,518.4 L348.5,519.5 L351.7,520.5 L354.8,521.6 L357.9,522.7 L361.1,523.9 L364.3,525.0 L367.2,526.1 L369.4,526.9 L370.9,527.4 L371.8,527.7 L372.4,527.9 L372.9,528.1 L373.5,528.3 L374.2,528.6 L374.8,528.9 L375.4,529.2 L376.1,529.6 L377.0,530.2 L378.1,531.0 L379.3,531.9 L380.7,532.9 L382.1,534.0 L383.4,535.0 L384.7,535.9 L386.0,536.9 L387.2,537.8 L388.6,538.8 L390.0,539.8 L391.5,540.9 L393.0,541.9 L394.6,543.1 L396.3,544.3 L398.0,545.6 L400.0,547.2 L402.1,548.9 L404.3,550.7 L406.3,552.4 L407.9,553.8 L409.0,554.7 L409.7,555.3 L410.2,555.8 L410.9,556.4 L412.0,557.3 L413.7,558.6 L415.7,560.2 L417.9,561.9 L420.1,563.6 L421.9,564.9 L423.5,565.9 L425.0,566.8 L426.4,567.6 L427.5,568.2 L428.3,568.6 L429.0,567.8 L430.0,566.8 L431.2,565.6 L432.4,564.1 L433.5,562.5 L434.6,560.5 L435.6,558.2 L436.7,555.7 L437.8,553.4 L438.8,551.5 L439.8,550.2 L440.9,549.4 L441.9,548.7 L442.9,547.7 L443.8,546.0 L444.6,543.4 L445.2,540.2 L445.9,536.6 L446.4,533.1 L447.0,530.0 L447.5,527.6 L448.0,525.7 L448.4,523.8 L448.9,521.4 L449.5,518.0 L450.2,513.3 L451.1,507.7 L452.0,501.6 L452.9,495.5 L453.8,489.9 L454.7,484.9 L455.7,480.1 L456.6,475.4 L457.6,471.0 L458.5,466.6 L459.4,462.4 L460.4,458.3 L461.3,454.3 L462.3,450.5 L463.2,446.8 L464.1,443.4 L464.8,440.2 L465.6,437.1 L466.6,433.8 L467.7,430.0 L469.1,425.5 L470.8,420.6 L472.6,415.4 L474.4,410.4 L476.0,405.7 L477.4,401.3 L478.7,397.0 L480.0,392.9 L481.2,389.2 L482.5,386.0 L483.7,383.5 L485.0,381.5 L486.2,379.9 L487.4,378.3 L488.7,376.4 L490.1,374.2 L491.6,371.7 L493.2,369.3 L494.6,367.0 L495.7,365.2 L496.4,364.0 L496.8,363.4 L497.1,362.9 L497.6,362.2 L498.5,361.0 L500.0,358.9 L502.0,356.2 L504.2,353.3 L506.3,350.7 L508.2,348.7 L509.7,347.6 L511.1,346.9 L512.3,346.6 L513.6,346.5 L515.0,346.2 L516.4,345.9 L517.8,345.7 L519.3,345.4 L521.0,345.2 L522.9,344.9 L525.1,344.4 L527.5,343.7 L530.1,343.0 L533.0,342.6 L536.2,342.4 L540.0,342.7 L544.3,343.2 L548.8,344.0 L553.2,344.8 L557.1,345.6 L560.4,346.3 L563.4,347.1 L566.2,347.9 L569.0,348.7 L571.8,349.7 L574.8,350.7 L577.7,351.8 L580.7,352.9 L583.6,354.2 L586.5,355.7 L589.3,357.4 L592.0,359.3 L594.7,361.3 L597.4,363.4 L600.0,365.5 L602.7,367.6 L605.4,369.7 L608.1,371.8 L610.7,373.9 L613.0,376.0 L615.1,378.0 L617.0,380.0 L618.7,381.9 L620.4,383.9 L622.0,386.0 L623.6,388.2 L625.0,390.5 L626.4,392.8 L627.7,395.1 L629.0,397.5 L630.2,399.8 L631.3,402.2 L632.4,404.5 L633.5,407.0 L634.5,409.5 L635.5,412.2 L636.5,414.9 L637.4,417.7 L638.4,420.6 L639.3,423.5 L640.3,426.4 L641.2,429.2 L642.2,432.1 L643.1,435.2 L644.0,438.5 L644.8,442.1 L645.5,446.0 L646.2,450.1 L646.9,454.2 L647.6,458.3 L648.3,462.6 L648.9,467.0 L649.5,471.4 L650.1,475.6 L650.8,479.3 L651.5,482.1 L652.3,484.1 L653.0,486.0 L653.7,488.4 L654.3,492.0 L654.7,496.9 L655.0,502.9 L655.2,509.3 L655.5,516.1 L655.8,522.6 L656.2,529.2 L656.7,536.0 L657.2,542.8 L657.7,549.4 L658.2,555.3 L658.7,560.7 L659.2,565.7 L659.6,570.2 L660.1,574.4 L660.5,578.0 L660.8,581.0 L661.1,583.5 L661.4,585.5 L661.8,587.3 L662.3,589.0 L663.0,590.6 L663.7,592.1 L664.6,593.4 L665.7,594.5 L667.0,595.5 L668.6,596.3 L670.5,596.9 L672.5,597.4 L674.7,597.9 L677.0,598.5 L679.4,599.2 L681.9,599.9 L684.6,600.7 L687.3,601.6 L690.0,602.5 L692.7,603.5 L695.5,604.7 L698.4,605.9 L701.3,607.1 L704.3,608.5 L707.5,610.1 L710.9,611.8 L714.3,613.6 L717.6,615.2 L720.6,616.6 L723.2,617.7 L725.6,618.7 L727.8,619.5 L729.9,620.0 L731.9,620.3 L733.8,620.2 L735.5,619.6 L737.2,618.9 L738.9,618.2 L741.0,617.5 L743.4,617.0 L746.0,616.5 L748.7,616.0 L751.5,615.5 L754.4,614.9 L757.3,614.2 L760.4,613.4 L763.5,612.6 L766.6,611.7 L769.6,610.8 L772.7,609.7 L775.9,608.5 L779.0,607.3 L781.6,606.2 L783.5,605.5" fill="none" stroke="#0000ff" stroke-width="2.8" stroke-linejoin="round" stroke-dasharray="35.6,12,6,12" clip-path="url(#cl)"/>
<path d="M783.5,605.5 L785.5,604.6 L788.2,603.3 L791.4,601.7 L794.8,600.1 L798.0,598.5 L801.1,597.0 L804.2,595.4 L807.4,593.8 L810.6,592.2 L813.6,590.5 L816.5,588.8 L819.3,587.0 L822.1,585.1 L824.8,583.3 L827.6,581.6 L830.4,579.9 L833.1,578.3 L835.9,576.7 L838.7,575.1 L841.6,573.7 L844.6,572.4 L847.7,571.3 L850.8,570.2 L853.9,569.1 L857.0,568.0 L860.1,566.9 L863.1,565.9 L866.2,564.8 L869.2,563.7 L872.3,562.5 L875.4,561.2 L878.5,559.8 L881.5,558.3 L884.6,556.9 L887.5,555.5 L890.3,554.1 L893.0,552.8 L895.6,551.4 L898.3,550.1 L901.2,548.9 L904.2,547.7 L907.4,546.6 L910.6,545.6 L913.8,544.5 L917.0,543.5 L920.2,542.5 L923.4,541.6 L926.7,540.6 L929.9,539.7 L933.0,538.8 L936.1,537.8 L939.3,536.8 L942.4,535.8 L945.3,534.9 L947.8,534.1 L950.0,533.4 L951.9,532.8 L953.6,532.3 L955.0,531.8 L956.0,531.5" fill="none" stroke="#0000ff" stroke-width="2.8" stroke-linejoin="round" stroke-dasharray="35.6,12,6,12" clip-path="url(#cl)"/>
<path d="M242.3,508.0 L242.9,508.0 L243.7,508.0 L244.7,508.1 L246.0,508.1 L247.6,508.2 L249.2,508.3 L250.9,508.3 L253.0,508.4 L255.8,508.6 L259.8,509.1 L265.6,509.9 L272.9,511.0 L280.8,512.2 L288.2,513.4 L294.2,514.4 L298.4,515.1 L301.4,515.7 L303.8,516.3 L306.2,516.8 L309.0,517.5 L312.4,518.3 L315.9,519.2 L319.6,520.1 L323.1,521.0 L326.4,522.0 L329.4,523.0 L332.3,524.0 L335.0,525.0 L337.7,526.1 L340.5,527.2 L343.3,528.3 L346.2,529.5 L349.0,530.7 L352.0,532.1 L355.0,533.5 L358.3,535.1 L361.7,536.9 L365.2,538.7 L368.6,540.6 L371.7,542.4 L374.4,544.1 L377.0,545.8 L379.3,547.4 L381.6,549.3 L384.0,551.4 L386.5,553.9 L389.0,556.7 L391.4,559.6 L393.8,562.5 L396.0,565.2 L398.0,567.7 L399.9,570.1 L401.6,572.4 L403.3,574.6 L405.0,576.9 L406.7,579.2 L408.3,581.4 L409.9,583.6 L411.5,585.8 L413.0,588.0 L414.6,590.4 L416.3,593.0 L417.9,595.6 L419.3,597.8 L420.3,599.3 L420.8,597.9 L421.6,596.0 L422.5,593.7 L423.4,591.3 L424.2,588.8 L425.0,586.2 L425.8,583.3 L426.5,580.4 L427.3,577.6 L428.0,575.0 L428.7,572.7 L429.3,570.6 L429.8,568.7 L430.4,566.8 L431.0,565.0 L431.6,563.4 L432.2,562.1 L432.8,560.8 L433.4,559.3 L434.0,557.3 L434.5,554.9 L434.9,552.1 L435.4,549.0 L435.8,545.7 L436.4,542.1 L437.1,538.2 L437.9,534.0 L438.8,529.5 L439.6,524.8 L440.4,520.0 L441.2,514.8 L441.9,509.3 L442.6,503.6 L443.3,498.2 L443.9,493.4 L444.4,489.2 L444.9,485.4 L445.4,482.0 L445.8,478.7 L446.2,475.4 L446.5,472.5 L446.8,470.0 L447.1,467.5 L447.4,464.4 L448.0,460.2 L448.8,454.3 L449.8,447.0 L451.0,439.3 L452.0,432.0 L452.9,426.2 L453.6,421.9 L454.2,418.6 L454.6,416.0 L455.1,413.9 L455.5,412.0 L455.8,410.6 L456.1,409.8 L456.3,409.4 L456.6,408.9 L457.0,408.3 L457.6,407.4 L458.3,406.5 L459.1,405.5 L460.0,404.5 L461.0,403.5 L462.1,402.6 L463.2,401.9 L464.5,401.1 L465.7,400.0 L467.0,398.5 L468.3,396.3 L469.8,393.5 L471.2,390.6 L472.5,387.7 L473.6,385.2 L474.5,383.2 L475.1,381.5 L475.6,379.9 L476.2,378.5 L477.0,377.0 L478.0,375.4 L479.1,373.8 L480.3,372.3 L481.4,371.0 L482.4,370.0 L483.2,369.4 L484.0,369.1 L484.6,369.0 L485.3,369.0 L486.0,369.0 L486.7,369.0 L487.3,369.2 L488.0,369.4 L488.8,369.7 L490.0,370.0 L491.5,370.4 L493.2,370.9 L495.2,371.4 L497.4,371.9 L499.8,372.4 L502.6,372.8 L505.7,373.3 L509.0,373.7 L512.3,374.1 L515.5,374.3 L518.8,374.4 L522.2,374.3 L525.5,374.1 L528.3,374.0 L530.3,373.9" fill="none" stroke="#00ff00" stroke-width="2.8" stroke-linejoin="round" stroke-dasharray="36,12,6,12,6,12" stroke-dashoffset="66.3" clip-path="url(#cl)"/>
<path d="M530.3,373.9 L530.4,373.9 L530.5,373.9 L530.7,373.9 L531.4,373.9 L533.0,373.8 L535.7,373.7 L539.2,373.5 L543.3,373.3 L547.3,373.2 L551.0,373.1 L554.1,373.1 L557.0,373.1 L559.8,373.2 L562.8,373.4 L566.2,373.8 L570.3,374.4 L574.9,375.2 L579.7,376.1 L584.1,377.1 L587.9,378.0 L590.8,378.9 L593.0,379.8 L594.9,380.8 L596.8,381.8 L599.0,383.0 L601.6,384.3 L604.3,385.6 L607.0,387.1 L609.8,388.7 L612.4,390.6 L615.0,392.8 L617.6,395.2 L620.2,397.8 L622.5,400.5 L624.6,403.2 L626.4,406.1 L628.0,409.4 L629.4,412.5 L630.5,415.3 L631.3,417.2" fill="none" stroke="#00ff00" stroke-width="2.8" stroke-linejoin="round" stroke-dasharray="36,12,6,12,6,12" stroke-dashoffset="48" clip-path="url(#cl)"/>
<path d="M631.3,417.2 L632.8,421.9 L635.0,428.6 L637.5,436.2 L639.8,443.6 L641.5,449.5 L642.5,453.7 L643.1,456.9 L643.4,459.6 L643.7,462.3 L644.1,465.3 L644.6,468.7 L645.1,472.2 L645.6,475.8 L646.0,479.4 L646.4,482.8 L646.7,485.8 L647.0,488.5 L647.2,491.3 L647.5,494.7 L647.9,499.0 L648.4,504.9 L649.1,512.0 L649.7,519.5 L650.3,526.6 L650.8,532.4 L651.1,536.6 L651.3,539.8 L651.4,542.4 L651.5,545.0 L651.6,547.9 L651.8,551.2 L651.9,554.7 L652.1,558.1 L652.2,561.6 L652.4,565.0 L652.6,568.6 L652.7,572.4 L652.9,576.1 L653.0,579.2 L653.1,581.4" fill="none" stroke="#00ff00" stroke-width="2.8" stroke-linejoin="round" stroke-dasharray="36,12,6,12,6,12" clip-path="url(#cl)"/>
<path d="M653.1,581.4 L655.7,616.6" fill="none" stroke="#00ff00" stroke-width="2.8" stroke-linejoin="round" stroke-dasharray="36,12,6,12,6,12" clip-path="url(#cl)"/>
<path d="M655.7,616.6 L656.1,615.5 L656.6,613.9 L657.1,612.0 L657.8,610.0 L658.4,608.0 L659.1,605.9 L659.8,603.5 L660.6,601.2 L661.2,599.1 L661.7,597.7" fill="none" stroke="#00ff00" stroke-width="2.8" stroke-linejoin="round" stroke-dasharray="36,12,6,12,6,12" clip-path="url(#cl)"/>
<path d="M661.7,597.7 L662.0,597.8 L662.2,597.9 L662.7,598.0 L663.5,598.2 L665.0,598.5 L667.2,598.8 L670.1,599.3 L673.4,599.7 L676.7,600.3 L680.0,601.0 L683.2,601.8 L686.6,602.8 L689.9,603.9 L693.1,605.0 L696.1,606.1 L698.9,607.3 L701.7,608.7 L704.2,610.0 L706.3,611.2 L707.8,612.0" fill="none" stroke="#00ff00" stroke-width="2.8" stroke-linejoin="round" stroke-dasharray="36,12,6,12,6,12" clip-path="url(#cl)"/>
<path d="M707.8,612.0 L709.4,612.9 L711.6,614.0 L714.2,615.5 L717.1,617.1 L720.0,618.9 L723.2,621.0 L726.7,623.5 L730.3,626.1 L733.8,628.6 L736.9,630.6 L739.7,632.2 L742.3,633.5 L744.6,634.5 L746.6,635.4 L748.0,636.0" fill="none" stroke="#00ff00" stroke-width="2.8" stroke-linejoin="round" stroke-dasharray="36,12,6,12,6,12" clip-path="url(#cl)"/>
<path d="M748.0,636.0 L750.0,636.6 L752.9,637.5 L756.2,638.5 L759.4,639.5 L762.0,640.6 L763.9,641.7 L765.4,642.8 L766.7,644.0 L767.9,645.2 L769.0,646.2 L770.2,647.2 L771.3,648.1 L772.3,649.0 L773.2,649.8 L773.8,650.3 L776.5,648.2" fill="none" stroke="#00ff00" stroke-width="2.8" stroke-linejoin="round" stroke-dasharray="36,12,6,12,6,12" clip-path="url(#cl)"/>
<path d="M776.5,648.2 L777.1,648.6 L777.8,649.1 L778.7,649.7 L779.7,650.3 L780.8,650.7 L781.9,651.0 L783.2,651.2 L784.4,651.4 L785.7,651.5 L787.0,651.6 L788.0,651.7 L788.9,651.7 L789.8,651.7 L791.1,651.5 L793.0,651.0 L795.7,650.2 L799.1,649.1 L802.8,647.9 L806.6,646.6 L810.0,645.2 L813.1,643.8 L816.2,642.4 L819.2,640.9 L822.0,639.3 L824.8,637.7 L827.4,636.0 L829.8,634.1 L832.1,632.3 L834.4,630.3 L836.9,628.3 L839.6,626.2 L842.3,624.0 L845.1,621.8 L847.9,619.6 L850.4,617.4 L852.5,615.5 L854.2,613.7 L856.0,612.0 L858.2,609.9 L861.1,607.3 L865.4,603.7 L870.9,599.3 L876.5,594.8 L881.5,590.8 L885.0,588.0" fill="none" stroke="#00ff00" stroke-width="2.8" stroke-linejoin="round" stroke-dasharray="36,12,6,12,6,12" stroke-dashoffset="66.3" clip-path="url(#cl)"/>
<path d="M885.0,588.0 L888.5,585.4 L893.6,581.5 L899.4,577.2 L905.0,573.2 L909.6,570.0 L912.9,568.0 L915.6,566.6 L918.0,565.6 L920.3,564.6 L923.0,563.4 L926.1,561.9 L929.3,560.3 L932.7,558.7 L936.1,557.1 L939.4,555.5 L943.0,553.9 L946.8,552.1 L950.5,550.4 L953.7,549.0 L956.0,548.0" fill="none" stroke="#00ff00" stroke-width="2.8" stroke-linejoin="round" stroke-dasharray="36,12,6,12,6,12" clip-path="url(#cl)"/>
<path d="M242.3,511.2 L245.1,511.6 L248.9,512.2 L253.5,512.9 L258.4,513.7 L263.3,514.4 L268.4,515.1 L273.9,515.9 L279.6,516.8 L285.1,517.6 L290.1,518.5 L294.4,519.4 L298.1,520.3 L301.6,521.2 L305.5,522.2 L309.9,523.4 L315.3,524.8 L321.5,526.4 L327.8,528.1 L333.9,529.7 L339.1,531.3 L343.4,532.7 L347.1,534.1 L350.3,535.5 L353.4,536.9 L356.6,538.3 L359.9,539.8 L363.1,541.3 L366.1,542.9 L369.0,544.4 L371.7,545.9 L374.0,547.4 L376.0,548.8 L377.8,550.2 L379.7,551.7 L381.7,553.2 L383.9,554.8 L386.2,556.4 L388.6,558.1 L390.9,559.8 L393.3,561.4 L395.7,563.0 L398.1,564.7 L400.5,566.3 L402.8,568.0 L405.0,569.5 L407.1,571.0 L409.0,572.5 L410.9,574.0 L412.6,575.3 L414.3,576.5 L415.8,577.5 L417.3,578.5 L418.6,579.2 L419.9,579.8 L421.3,580.0 L422.7,579.9 L424.2,579.5 L425.6,578.9 L427.0,578.0 L428.3,577.1 L429.6,576.0 L430.8,574.7 L431.9,573.3 L433.0,571.7 L434.1,570.1 L435.1,568.4 L436.1,566.7 L437.0,564.8 L437.9,562.9 L438.8,560.8 L439.7,558.6 L440.5,556.4 L441.3,554.1 L442.1,551.6 L442.8,549.1 L443.5,546.5 L444.1,543.8 L444.7,541.0 L445.2,538.1 L445.8,535.2 L446.3,532.5 L446.7,529.9 L447.2,527.2 L447.7,524.0 L448.3,520.0 L449.0,514.8 L449.9,508.7 L450.8,502.2 L451.7,495.7 L452.6,489.9 L453.5,484.7 L454.5,479.9 L455.4,475.3 L456.4,470.9 L457.3,466.6 L458.2,462.4 L459.2,458.3 L460.1,454.3 L461.1,450.5 L462.0,446.8 L462.9,443.4 L463.6,440.2 L464.4,437.1 L465.4,433.8 L466.5,430.0 L467.9,425.6 L469.6,420.7 L471.4,415.5 L473.2,410.5 L474.8,405.7 L476.3,401.3 L477.7,397.0 L479.1,392.9 L480.4,388.8 L481.7,384.8 L482.9,380.6 L484.2,376.3 L485.3,372.2 L486.4,368.4 L487.3,365.2 L488.0,362.7 L488.6,360.8 L489.1,359.2 L489.6,357.9 L490.1,356.8 L490.6,355.8 L491.2,355.0 L491.7,354.4 L492.3,354.1 L492.9,354.0 L493.7,354.3 L494.5,354.9 L495.4,355.7 L496.2,356.6 L497.1,357.5 L497.9,358.5 L498.7,359.7 L499.5,360.9 L500.4,362.0 L501.3,363.0 L502.3,363.8 L503.4,364.4 L504.5,364.9 L505.7,365.4 L506.9,365.7 L508.1,365.9 L509.4,366.1 L510.7,366.2 L512.2,366.1 L513.9,365.9 L515.9,365.5 L518.1,365.0 L520.4,364.4 L522.8,363.7 L525.1,363.1 L527.4,362.5 L529.7,361.9 L531.9,361.2 L534.2,360.6 L536.3,360.0 L538.3,359.5 L540.1,358.9 L541.9,358.4 L543.8,357.9 L546.0,357.5 L548.5,357.1 L551.3,356.6 L554.2,356.2 L557.1,355.9 L560.0,355.7 L562.8,355.6 L565.6,355.5 L568.4,355.6 L571.2,355.8 L574.0,356.1 L576.8,356.6 L579.6,357.2 L582.4,358.0 L585.2,358.9 L588.0,359.9 L590.8,361.1 L593.7,362.4 L596.5,363.9 L599.3,365.4 L601.9,366.9 L604.3,368.4 L606.6,370.0 L608.8,371.7 L610.9,373.4 L613.0,375.2 L615.1,377.1 L617.2,379.2 L619.2,381.3 L621.1,383.5 L622.9,385.7 L624.5,387.9 L626.0,390.1 L627.3,392.4 L628.6,394.7 L629.9,397.0 L631.1,399.4 L632.3,401.8 L633.4,404.3 L634.5,406.9 L635.5,409.5 L636.5,412.2 L637.5,414.9 L638.4,417.8 L639.4,420.6 L640.3,423.5 L641.3,426.4 L642.2,429.2 L643.2,432.1 L644.1,435.2 L645.0,438.5 L645.8,442.1 L646.5,446.0 L647.2,450.1 L647.9,454.2 L648.5,458.3 L649.1,462.4 L649.7,466.6 L650.3,470.9 L650.9,475.1 L651.4,479.3 L651.9,483.4 L652.4,487.5 L652.9,491.6 L653.3,495.7 L653.7,500.0 L654.0,504.2 L654.3,508.4 L654.6,512.7 L654.9,517.4 L655.2,522.6 L655.6,528.6 L656.1,535.3 L656.6,542.2 L657.1,549.0 L657.6,555.3 L658.1,561.2 L658.6,566.8 L659.1,572.2 L659.6,577.1 L660.1,581.4 L660.6,585.0 L661.2,588.0 L661.7,590.5 L662.2,592.6 L662.8,594.4 L663.2,595.8 L663.6,596.9 L664.0,597.5 L664.7,598.1 L665.8,598.5 L667.5,598.8 L669.7,598.9 L672.2,598.8 L674.8,598.8 L677.2,599.0 L679.6,599.4 L681.9,599.9 L684.3,600.4 L686.7,601.1 L689.1,601.7 L691.5,602.4 L693.8,603.1 L696.1,603.9 L698.5,604.7 L700.8,605.5 L703.1,606.4 L705.4,607.3 L707.8,608.3 L710.1,609.3 L712.4,610.2 L714.7,611.1 L717.1,611.9 L719.4,612.7 L721.8,613.5 L724.1,614.3 L726.4,615.1 L728.8,615.8 L731.1,616.6 L733.5,617.2 L735.8,617.8 L738.1,618.3 L740.4,618.8 L742.8,619.2 L745.1,619.5 L747.4,619.6 L749.7,619.6 L752.1,619.4 L754.4,619.2 L756.8,618.8 L759.1,618.4 L761.4,617.9 L763.7,617.3 L766.1,616.6 L768.4,615.8 L770.7,614.9 L773.0,613.9 L775.4,612.7 L777.7,611.4 L780.1,610.2 L782.4,609.0 L784.8,607.9 L787.4,606.7 L789.9,605.6 L792.1,604.6 L794.0,603.8 L795.2,603.3 L795.7,603.0 L796.2,602.7 L797.0,602.4 L798.7,601.7 L801.6,600.7 L805.2,599.3 L809.3,597.9 L813.5,596.4 L817.3,595.1 L820.9,593.9 L824.4,592.7 L827.9,591.6 L831.1,590.5 L834.1,589.5 L836.7,588.5 L838.9,587.5 L841.0,586.5 L843.0,585.6 L845.3,584.9 L847.8,584.4 L850.3,584.1 L852.9,583.9 L855.5,583.6 L858.3,583.0 L861.1,582.1 L864.0,581.1 L866.9,579.9 L870.0,578.6 L873.3,577.4 L876.8,576.2 L880.5,574.9 L884.3,573.5 L888.1,572.2 L891.9,570.9 L895.6,569.6 L899.4,568.3 L903.1,567.1 L906.9,565.8 L910.6,564.4 L914.4,562.9 L918.2,561.4 L922.0,559.9 L925.7,558.4 L929.2,556.9 L932.5,555.5 L935.6,554.1 L938.5,552.7 L941.4,551.5 L944.1,550.4 L946.9,549.5 L949.6,548.7 L952.2,548.0 L954.4,547.4 L956.0,547.0" fill="none" stroke="#ff00ff" stroke-width="2.8" stroke-linejoin="round" clip-path="url(#cl)"/>
<rect x="242" y="102" width="714" height="632" fill="none" stroke="#000" stroke-width="2"/>
<text transform="translate(795,144.3) scale(1.0,1.06)" text-anchor="end">experiments w/ endplates</text>
<text transform="translate(795,179.9) scale(1.0,1.06)" text-anchor="end">WRLES Uzun Ma=0.2</text>
<text transform="translate(795,215.5) scale(1.0,1.06)" text-anchor="end">WMLES Park Ma=0.2</text>
<text transform="translate(795,251.1) scale(1.0,1.06)" text-anchor="end">WMLES Iyer Ma=0.1</text>
<text transform="translate(795,286.7) scale(1.0,1.06)" text-anchor="end">SST CFL3D Ma=0.2</text>
<text transform="translate(795,322.3) scale(1.0,1.06)" text-anchor="end">WA-WMLES Ma=0.2</text>
<path d="M815.5,131.8 H913.5 M815.5,125.80000000000001 v12 M913.5,125.80000000000001 v12 M864.5,125.80000000000001 v12" stroke="#ff0000" stroke-width="1" fill="none"/>
<line x1="815.5" y1="167.4" x2="913.5" y2="167.4" stroke="#000000" stroke-width="3" stroke-dasharray="12,17.8"/>
<line x1="815.5" y1="203.0" x2="913.5" y2="203.0" stroke="#a52a2a" stroke-width="3" stroke-dasharray="6,9"/>
<line x1="815.5" y1="238.6" x2="913.5" y2="238.6" stroke="#0000ff" stroke-width="3" stroke-dasharray="35.6,12,6,12"/>
<line x1="815.5" y1="274.2" x2="913.5" y2="274.2" stroke="#00ff00" stroke-width="3" stroke-dasharray="36,12,6,12,6,12" stroke-dashoffset="66.3"/>
<line x1="815.5" y1="309.8" x2="913.5" y2="309.8" stroke="#ff00ff" stroke-width="3"/>
<line x1="1191" y1="619.5" x2="1948" y2="619.5" stroke="#b4b4b4" stroke-width="1" stroke-dasharray="2.5,3.5"/>
<line x1="1380.2" y1="734" x2="1380.2" y2="722" stroke="#000" stroke-opacity="0.6" stroke-width="1"/>
<line x1="1380.2" y1="102" x2="1380.2" y2="114" stroke="#000" stroke-opacity="0.6" stroke-width="1"/>
<line x1="1569.5" y1="734" x2="1569.5" y2="722" stroke="#000" stroke-opacity="0.6" stroke-width="1"/>
<line x1="1569.5" y1="102" x2="1569.5" y2="114" stroke="#000" stroke-opacity="0.6" stroke-width="1"/>
<line x1="1758.8" y1="734" x2="1758.8" y2="722" stroke="#000" stroke-opacity="0.6" stroke-width="1"/>
<line x1="1758.8" y1="102" x2="1758.8" y2="114" stroke="#000" stroke-opacity="0.6" stroke-width="1"/>
<line x1="1191" y1="188.2" x2="1203" y2="188.2" stroke="#000" stroke-opacity="0.6" stroke-width="1"/>
<line x1="1948" y1="188.2" x2="1936" y2="188.2" stroke="#000" stroke-opacity="0.6" stroke-width="1"/>
<line x1="1191" y1="331.8" x2="1203" y2="331.8" stroke="#000" stroke-opacity="0.6" stroke-width="1"/>
<line x1="1948" y1="331.8" x2="1936" y2="331.8" stroke="#000" stroke-opacity="0.6" stroke-width="1"/>
<line x1="1191" y1="475.5" x2="1203" y2="475.5" stroke="#000" stroke-opacity="0.6" stroke-width="1"/>
<line x1="1948" y1="475.5" x2="1936" y2="475.5" stroke="#000" stroke-opacity="0.6" stroke-width="1"/>
<line x1="1191" y1="619.1" x2="1203" y2="619.1" stroke="#000" stroke-opacity="0.6" stroke-width="1"/>
<line x1="1948" y1="619.1" x2="1936" y2="619.1" stroke="#000" stroke-opacity="0.6" stroke-width="1"/>
<text transform="translate(1191.0,781) scale(1.0,1.06)" text-anchor="middle" xml:space="preserve">-0.5</text>
<text transform="translate(1380.2,781) scale(1.0,1.06)" text-anchor="middle" xml:space="preserve"> 0</text>
<text transform="translate(1569.5,781) scale(1.0,1.06)" text-anchor="middle" xml:space="preserve"> 0.5</text>
<text transform="translate(1758.8,781) scale(1.0,1.06)" text-anchor="middle" xml:space="preserve"> 1</text>
<text transform="translate(1948.0,781) scale(1.0,1.06)" text-anchor="middle" xml:space="preserve"> 1.5</text>
<text transform="translate(1168.5,200.8) scale(1.0,1.06)" text-anchor="end" xml:space="preserve">-1.5</text>
<text transform="translate(1168.5,344.4) scale(1.0,1.06)" text-anchor="end" xml:space="preserve">-1</text>
<text transform="translate(1168.5,488.1) scale(1.0,1.06)" text-anchor="end" xml:space="preserve">-0.5</text>
<text transform="translate(1168.5,631.7) scale(1.0,1.06)" text-anchor="end" xml:space="preserve">0</text>
<text transform="translate(1569.5,57) scale(1.0,1.06)" text-anchor="middle" xml:space="preserve">C<tspan font-size="28.5" dy="9.5">p</tspan><tspan dy="-9.5"> over wall</tspan></text>
<text transform="translate(1054.3,418.5) rotate(-90) scale(1.0,1.06)" text-anchor="middle" xml:space="preserve">C<tspan font-size="28.5" dy="9.5">p</tspan></text>
<text transform="translate(1569.5,835) scale(1.0,1.06)" text-anchor="middle" xml:space="preserve">x/c</text>
<path d="M1191.1,617.2h6.3v6.3h-6.3zM1193.8,620.4h1M1202.2,618.5h6.3v6.3h-6.3zM1204.9,621.6h1M1213.8,619.6h6.3v6.3h-6.3zM1216.5,622.7h1M1225.5,621.4h6.3v6.3h-6.3zM1228.2,624.5h1M1237.2,623.1h6.3v6.3h-6.3zM1239.9,626.2h1M1248.8,625.1h6.3v6.3h-6.3zM1251.5,628.2h1M1260.1,628.1h6.3v6.3h-6.3zM1262.8,631.2h1M1272.1,631.2h6.3v6.3h-6.3zM1274.8,634.4h1M1284.4,634.8h6.3v6.3h-6.3zM1287.1,637.9h1M1295.4,639.1h6.3v6.3h-6.3zM1298.1,642.2h1M1307.8,644.1h6.3v6.3h-6.3zM1310.4,647.2h1M1319.3,649.9h6.3v6.3h-6.3zM1322.0,653.0h1M1331.6,656.9h6.3v6.3h-6.3zM1334.3,660.0h1M1344.6,665.2h6.3v6.3h-6.3zM1347.3,668.4h1M1360.4,679.8h6.3v6.3h-6.3zM1363.1,682.9h1M1366.2,685.6h6.3v6.3h-6.3zM1368.9,688.8h1M1372.0,690.9h6.3v6.3h-6.3zM1374.7,694.0h1M1377.8,697.2h6.3v6.3h-6.3zM1380.5,700.4h1M1383.8,702.6h6.3v6.3h-6.3zM1386.4,705.7h1M1391.2,700.1h6.3v6.3h-6.3zM1393.9,703.3h1M1397.8,689.6h6.3v6.3h-6.3zM1400.4,692.8h1M1402.9,668.8h6.3v6.3h-6.3zM1405.6,671.9h1M1408.8,636.6h6.3v6.3h-6.3zM1411.4,639.8h1M1413.6,597.6h6.3v6.3h-6.3zM1416.3,600.8h1M1419.4,566.2h6.3v6.3h-6.3zM1422.1,569.4h1M1424.6,544.1h6.3v6.3h-6.3zM1427.3,547.2h1M1435.8,504.5h6.3v6.3h-6.3zM1438.5,507.6h1M1440.8,482.4h6.3v6.3h-6.3zM1443.5,485.5h1M1446.8,467.2h6.3v6.3h-6.3zM1449.5,470.4h1M1452.8,454.5h6.3v6.3h-6.3zM1455.5,457.6h1M1463.9,437.8h6.3v6.3h-6.3zM1466.6,440.9h1M1474.8,426.9h6.3v6.3h-6.3zM1477.5,430.0h1M1480.6,421.9h6.3v6.3h-6.3zM1483.3,425.0h1M1485.9,417.4h6.3v6.3h-6.3zM1488.6,420.5h1M1492.0,412.8h6.3v6.3h-6.3zM1494.7,415.9h1M1497.3,408.7h6.3v6.3h-6.3zM1500.0,411.8h1M1502.6,405.2h6.3v6.3h-6.3zM1505.3,408.3h1M1508.6,397.7h6.3v6.3h-6.3zM1511.3,400.8h1M1514.8,398.4h6.3v6.3h-6.3zM1517.4,401.5h1M1520.0,392.4h6.3v6.3h-6.3zM1522.7,395.5h1M1525.3,388.6h6.3v6.3h-6.3zM1528.0,391.7h1M1531.0,385.5h6.3v6.3h-6.3zM1533.7,388.6h1M1536.2,381.4h6.3v6.3h-6.3zM1538.9,384.5h1M1541.8,378.4h6.3v6.3h-6.3zM1544.5,381.5h1M1547.3,375.4h6.3v6.3h-6.3zM1550.0,378.5h1M1553.3,373.9h6.3v6.3h-6.3zM1556.0,377.0h1M1558.3,364.8h6.3v6.3h-6.3zM1561.0,367.9h1M1563.9,368.1h6.3v6.3h-6.3zM1566.6,371.2h1M1569.2,372.4h6.3v6.3h-6.3zM1571.9,375.5h1M1574.5,371.4h6.3v6.3h-6.3zM1577.2,374.5h1M1580.1,371.1h6.3v6.3h-6.3zM1582.8,374.2h1M1585.6,371.1h6.3v6.3h-6.3zM1588.3,374.2h1M1591.2,373.4h6.3v6.3h-6.3zM1593.9,376.5h1M1596.8,375.7h6.3v6.3h-6.3zM1599.5,378.8h1M1602.3,380.4h6.3v6.3h-6.3zM1605.0,383.5h1M1607.8,387.2h6.3v6.3h-6.3zM1610.5,390.3h1M1613.4,393.9h6.3v6.3h-6.3zM1616.1,397.0h1M1619.3,412.9h6.3v6.3h-6.3zM1622.0,416.0h1M1626.0,467.6h6.3v6.3h-6.3zM1628.7,470.7h1M1631.1,495.8h6.3v6.3h-6.3zM1633.8,498.9h1M1636.6,497.5h6.3v6.3h-6.3zM1639.3,500.6h1M1642.6,497.5h6.3v6.3h-6.3zM1645.3,500.6h1M1648.1,496.4h6.3v6.3h-6.3zM1650.8,499.5h1M1653.8,493.6h6.3v6.3h-6.3zM1656.4,496.7h1M1659.2,492.4h6.3v6.3h-6.3zM1661.9,495.5h1M1664.8,492.4h6.3v6.3h-6.3zM1667.5,495.5h1M1669.8,492.0h6.3v6.3h-6.3zM1672.5,495.1h1M1675.4,490.5h6.3v6.3h-6.3zM1678.1,493.6h1M1680.9,489.8h6.3v6.3h-6.3zM1683.6,492.9h1M1686.5,488.7h6.3v6.3h-6.3zM1689.2,491.8h1M1692.0,486.9h6.3v6.3h-6.3zM1694.7,490.0h1M1697.5,484.7h6.3v6.3h-6.3zM1700.2,487.8h1M1703.1,483.8h6.3v6.3h-6.3zM1705.8,486.9h1M1708.1,482.7h6.3v6.3h-6.3zM1710.8,485.8h1M1713.2,486.4h6.3v6.3h-6.3zM1715.9,489.5h1M1718.8,487.2h6.3v6.3h-6.3zM1721.5,490.4h1M1724.1,491.5h6.3v6.3h-6.3zM1726.8,494.6h1M1729.3,494.7h6.3v6.3h-6.3zM1732.0,497.8h1M1735.0,498.9h6.3v6.3h-6.3zM1737.7,502.0h1M1740.3,505.4h6.3v6.3h-6.3zM1743.0,508.5h1M1745.8,513.4h6.3v6.3h-6.3zM1748.5,516.5h1M1751.2,521.4h6.3v6.3h-6.3zM1753.9,524.5h1M1756.6,529.2h6.3v6.3h-6.3zM1759.3,532.4h1M1761.9,539.4h6.3v6.3h-6.3zM1764.6,542.5h1M1767.5,546.1h6.3v6.3h-6.3zM1770.2,549.2h1M1773.0,558.2h6.3v6.3h-6.3zM1775.7,561.4h1M1791.2,578.1h6.3v6.3h-6.3zM1793.9,581.3h1M1803.4,587.6h6.3v6.3h-6.3zM1806.1,590.7h1M1816.0,590.1h6.3v6.3h-6.3zM1818.7,593.3h1M1828.4,600.2h6.3v6.3h-6.3zM1831.1,603.4h1M1841.2,603.9h6.3v6.3h-6.3zM1843.9,607.0h1M1853.9,604.5h6.3v6.3h-6.3zM1856.6,607.6h1M1866.6,605.1h6.3v6.3h-6.3zM1869.3,608.3h1M1879.2,605.0h6.3v6.3h-6.3zM1881.9,608.1h1M1891.4,603.1h6.3v6.3h-6.3zM1894.1,606.3h1M1904.1,602.8h6.3v6.3h-6.3zM1906.8,605.9h1M1916.8,601.2h6.3v6.3h-6.3zM1919.4,604.4h1M1929.3,600.1h6.3v6.3h-6.3zM1932.0,603.3h1M1941.3,598.6h6.3v6.3h-6.3zM1944.0,601.7h1" fill="none" stroke="#ff0000" stroke-width="0.85"/>
<path d="M1191.2,622.2a3.05,3.05 0 1,0 6.10,0a3.05,3.05 0 1,0 -6.10,0M1193.8,622.2h1M1202.4,623.8a3.05,3.05 0 1,0 6.10,0a3.05,3.05 0 1,0 -6.10,0M1204.9,623.8h1M1214.0,625.3a3.05,3.05 0 1,0 6.10,0a3.05,3.05 0 1,0 -6.10,0M1216.5,625.3h1M1225.7,627.0a3.05,3.05 0 1,0 6.10,0a3.05,3.05 0 1,0 -6.10,0M1228.2,627.0h1M1237.4,628.6a3.05,3.05 0 1,0 6.10,0a3.05,3.05 0 1,0 -6.10,0M1239.9,628.6h1M1248.7,633.8a3.05,3.05 0 1,0 6.10,0a3.05,3.05 0 1,0 -6.10,0M1251.2,633.8h1M1260.2,637.1a3.05,3.05 0 1,0 6.10,0a3.05,3.05 0 1,0 -6.10,0M1262.8,637.1h1M1272.2,640.2a3.05,3.05 0 1,0 6.10,0a3.05,3.05 0 1,0 -6.10,0M1274.8,640.2h1M1283.5,644.9a3.05,3.05 0 1,0 6.10,0a3.05,3.05 0 1,0 -6.10,0M1286.1,644.9h1M1295.2,649.5a3.05,3.05 0 1,0 6.10,0a3.05,3.05 0 1,0 -6.10,0M1297.8,649.5h1M1306.9,654.8a3.05,3.05 0 1,0 6.10,0a3.05,3.05 0 1,0 -6.10,0M1309.4,654.8h1M1318.5,660.6a3.05,3.05 0 1,0 6.10,0a3.05,3.05 0 1,0 -6.10,0M1321.1,660.6h1M1330.5,667.4a3.05,3.05 0 1,0 6.10,0a3.05,3.05 0 1,0 -6.10,0M1333.1,667.4h1M1341.9,675.9a3.05,3.05 0 1,0 6.10,0a3.05,3.05 0 1,0 -6.10,0M1344.4,675.9h1M1358.8,688.8a3.05,3.05 0 1,0 6.10,0a3.05,3.05 0 1,0 -6.10,0M1361.3,688.8h1M1364.0,694.6a3.05,3.05 0 1,0 6.10,0a3.05,3.05 0 1,0 -6.10,0M1366.5,694.6h1M1370.0,700.0a3.05,3.05 0 1,0 6.10,0a3.05,3.05 0 1,0 -6.10,0M1372.5,700.0h1M1376.0,705.5a3.05,3.05 0 1,0 6.10,0a3.05,3.05 0 1,0 -6.10,0M1378.5,705.5h1M1382.0,710.0a3.05,3.05 0 1,0 6.10,0a3.05,3.05 0 1,0 -6.10,0M1384.5,710.0h1M1393.8,709.2a3.05,3.05 0 1,0 6.10,0a3.05,3.05 0 1,0 -6.10,0M1396.3,709.2h1M1400.0,690.0a3.05,3.05 0 1,0 6.10,0a3.05,3.05 0 1,0 -6.10,0M1402.5,690.0h1M1407.8,647.4a3.05,3.05 0 1,0 6.10,0a3.05,3.05 0 1,0 -6.10,0M1410.3,647.4h1M1416.0,612.5a3.05,3.05 0 1,0 6.10,0a3.05,3.05 0 1,0 -6.10,0M1418.6,612.5h1M1420.8,581.0a3.05,3.05 0 1,0 6.10,0a3.05,3.05 0 1,0 -6.10,0M1423.3,581.0h1M1427.8,560.0a3.05,3.05 0 1,0 6.10,0a3.05,3.05 0 1,0 -6.10,0M1430.3,560.0h1M1437.0,521.6a3.05,3.05 0 1,0 6.10,0a3.05,3.05 0 1,0 -6.10,0M1439.6,521.6h1M1442.9,499.4a3.05,3.05 0 1,0 6.10,0a3.05,3.05 0 1,0 -6.10,0M1445.4,499.4h1M1448.8,483.1a3.05,3.05 0 1,0 6.10,0a3.05,3.05 0 1,0 -6.10,0M1451.3,483.1h1M1454.0,471.3a3.05,3.05 0 1,0 6.10,0a3.05,3.05 0 1,0 -6.10,0M1456.5,471.3h1M1459.5,462.5a3.05,3.05 0 1,0 6.10,0a3.05,3.05 0 1,0 -6.10,0M1462.0,462.5h1M1464.5,455.0a3.05,3.05 0 1,0 6.10,0a3.05,3.05 0 1,0 -6.10,0M1467.1,455.0h1M1470.2,449.1a3.05,3.05 0 1,0 6.10,0a3.05,3.05 0 1,0 -6.10,0M1472.7,449.1h1M1475.7,443.6a3.05,3.05 0 1,0 6.10,0a3.05,3.05 0 1,0 -6.10,0M1478.2,443.6h1M1481.2,439.5a3.05,3.05 0 1,0 6.10,0a3.05,3.05 0 1,0 -6.10,0M1483.8,439.5h1M1486.8,434.8a3.05,3.05 0 1,0 6.10,0a3.05,3.05 0 1,0 -6.10,0M1489.3,434.8h1M1492.5,430.6a3.05,3.05 0 1,0 6.10,0a3.05,3.05 0 1,0 -6.10,0M1495.0,430.6h1M1497.9,426.5a3.05,3.05 0 1,0 6.10,0a3.05,3.05 0 1,0 -6.10,0M1500.4,426.5h1M1503.5,422.4a3.05,3.05 0 1,0 6.10,0a3.05,3.05 0 1,0 -6.10,0M1506.0,422.4h1M1509.2,416.7a3.05,3.05 0 1,0 6.10,0a3.05,3.05 0 1,0 -6.10,0M1511.8,416.7h1M1515.2,416.4a3.05,3.05 0 1,0 6.10,0a3.05,3.05 0 1,0 -6.10,0M1517.7,416.4h1M1520.5,410.6a3.05,3.05 0 1,0 6.10,0a3.05,3.05 0 1,0 -6.10,0M1523.0,410.6h1M1525.5,407.6a3.05,3.05 0 1,0 6.10,0a3.05,3.05 0 1,0 -6.10,0M1528.0,407.6h1M1531.2,404.2a3.05,3.05 0 1,0 6.10,0a3.05,3.05 0 1,0 -6.10,0M1533.7,404.2h1M1536.5,400.8a3.05,3.05 0 1,0 6.10,0a3.05,3.05 0 1,0 -6.10,0M1539.0,400.8h1M1542.2,397.3a3.05,3.05 0 1,0 6.10,0a3.05,3.05 0 1,0 -6.10,0M1544.7,397.3h1M1547.8,395.5a3.05,3.05 0 1,0 6.10,0a3.05,3.05 0 1,0 -6.10,0M1550.3,395.5h1M1553.5,393.6a3.05,3.05 0 1,0 6.10,0a3.05,3.05 0 1,0 -6.10,0M1556.0,393.6h1M1558.5,383.6a3.05,3.05 0 1,0 6.10,0a3.05,3.05 0 1,0 -6.10,0M1561.0,383.6h1M1564.0,388.2a3.05,3.05 0 1,0 6.10,0a3.05,3.05 0 1,0 -6.10,0M1566.6,388.2h1M1569.4,392.1a3.05,3.05 0 1,0 6.10,0a3.05,3.05 0 1,0 -6.10,0M1571.9,392.1h1M1574.7,392.4a3.05,3.05 0 1,0 6.10,0a3.05,3.05 0 1,0 -6.10,0M1577.2,392.4h1M1580.2,392.4a3.05,3.05 0 1,0 6.10,0a3.05,3.05 0 1,0 -6.10,0M1582.8,392.4h1M1585.8,391.7a3.05,3.05 0 1,0 6.10,0a3.05,3.05 0 1,0 -6.10,0M1588.3,391.7h1M1591.4,393.5a3.05,3.05 0 1,0 6.10,0a3.05,3.05 0 1,0 -6.10,0M1593.9,393.5h1M1597.2,396.3a3.05,3.05 0 1,0 6.10,0a3.05,3.05 0 1,0 -6.10,0M1599.7,396.3h1M1602.7,401.4a3.05,3.05 0 1,0 6.10,0a3.05,3.05 0 1,0 -6.10,0M1605.2,401.4h1M1610.2,413.1a3.05,3.05 0 1,0 6.10,0a3.05,3.05 0 1,0 -6.10,0M1612.7,413.1h1M1620.2,433.7a3.05,3.05 0 1,0 6.10,0a3.05,3.05 0 1,0 -6.10,0M1622.7,433.7h1M1632.4,514.4a3.05,3.05 0 1,0 6.10,0a3.05,3.05 0 1,0 -6.10,0M1634.9,514.4h1M1637.5,515.7a3.05,3.05 0 1,0 6.10,0a3.05,3.05 0 1,0 -6.10,0M1640.0,515.7h1M1642.8,516.2a3.05,3.05 0 1,0 6.10,0a3.05,3.05 0 1,0 -6.10,0M1645.3,516.2h1M1648.2,515.0a3.05,3.05 0 1,0 6.10,0a3.05,3.05 0 1,0 -6.10,0M1650.8,515.0h1M1653.9,513.5a3.05,3.05 0 1,0 6.10,0a3.05,3.05 0 1,0 -6.10,0M1656.4,513.5h1M1659.4,512.2a3.05,3.05 0 1,0 6.10,0a3.05,3.05 0 1,0 -6.10,0M1661.9,512.2h1M1665.0,511.7a3.05,3.05 0 1,0 6.10,0a3.05,3.05 0 1,0 -6.10,0M1667.5,511.7h1M1670.0,511.3a3.05,3.05 0 1,0 6.10,0a3.05,3.05 0 1,0 -6.10,0M1672.5,511.3h1M1675.5,509.5a3.05,3.05 0 1,0 6.10,0a3.05,3.05 0 1,0 -6.10,0M1678.1,509.5h1M1681.0,508.4a3.05,3.05 0 1,0 6.10,0a3.05,3.05 0 1,0 -6.10,0M1683.6,508.4h1M1686.7,507.3a3.05,3.05 0 1,0 6.10,0a3.05,3.05 0 1,0 -6.10,0M1689.2,507.3h1M1692.2,506.2a3.05,3.05 0 1,0 6.10,0a3.05,3.05 0 1,0 -6.10,0M1694.7,506.2h1M1697.7,504.4a3.05,3.05 0 1,0 6.10,0a3.05,3.05 0 1,0 -6.10,0M1700.2,504.4h1M1703.2,503.3a3.05,3.05 0 1,0 6.10,0a3.05,3.05 0 1,0 -6.10,0M1705.8,503.3h1M1708.2,503.5a3.05,3.05 0 1,0 6.10,0a3.05,3.05 0 1,0 -6.10,0M1710.8,503.5h1M1713.4,504.5a3.05,3.05 0 1,0 6.10,0a3.05,3.05 0 1,0 -6.10,0M1715.9,504.5h1M1719.0,505.8a3.05,3.05 0 1,0 6.10,0a3.05,3.05 0 1,0 -6.10,0M1721.5,505.8h1M1724.0,508.0a3.05,3.05 0 1,0 6.10,0a3.05,3.05 0 1,0 -6.10,0M1726.5,508.0h1M1729.5,511.4a3.05,3.05 0 1,0 6.10,0a3.05,3.05 0 1,0 -6.10,0M1732.0,511.4h1M1734.8,515.6a3.05,3.05 0 1,0 6.10,0a3.05,3.05 0 1,0 -6.10,0M1737.3,515.6h1M1740.4,521.9a3.05,3.05 0 1,0 6.10,0a3.05,3.05 0 1,0 -6.10,0M1742.9,521.9h1M1745.7,527.2a3.05,3.05 0 1,0 6.10,0a3.05,3.05 0 1,0 -6.10,0M1748.2,527.2h1M1751.0,533.9a3.05,3.05 0 1,0 6.10,0a3.05,3.05 0 1,0 -6.10,0M1753.6,533.9h1M1756.8,542.5a3.05,3.05 0 1,0 6.10,0a3.05,3.05 0 1,0 -6.10,0M1759.3,542.5h1M1762.5,551.3a3.05,3.05 0 1,0 6.10,0a3.05,3.05 0 1,0 -6.10,0M1765.0,551.3h1M1767.7,557.2a3.05,3.05 0 1,0 6.10,0a3.05,3.05 0 1,0 -6.10,0M1770.2,557.2h1M1803.5,597.5a3.05,3.05 0 1,0 6.10,0a3.05,3.05 0 1,0 -6.10,0M1806.1,597.5h1M1828.8,611.0a3.05,3.05 0 1,0 6.10,0a3.05,3.05 0 1,0 -6.10,0M1831.3,611.0h1M1841.4,616.0a3.05,3.05 0 1,0 6.10,0a3.05,3.05 0 1,0 -6.10,0M1843.9,616.0h1M1866.8,617.8a3.05,3.05 0 1,0 6.10,0a3.05,3.05 0 1,0 -6.10,0M1869.3,617.8h1M1879.4,617.6a3.05,3.05 0 1,0 6.10,0a3.05,3.05 0 1,0 -6.10,0M1881.9,617.6h1M1891.5,617.5a3.05,3.05 0 1,0 6.10,0a3.05,3.05 0 1,0 -6.10,0M1894.1,617.5h1M1916.9,614.9a3.05,3.05 0 1,0 6.10,0a3.05,3.05 0 1,0 -6.10,0M1919.4,614.9h1M1929.5,614.3a3.05,3.05 0 1,0 6.10,0a3.05,3.05 0 1,0 -6.10,0M1932.0,614.3h1M1941.5,613.2a3.05,3.05 0 1,0 6.10,0a3.05,3.05 0 1,0 -6.10,0M1944.0,613.2h1" fill="none" stroke="#00ffff" stroke-width="0.85"/>
<path d="M1191.0,620.5 L1195.7,620.9 L1202.3,621.3 L1210.0,621.9 L1217.8,622.6 L1225.0,623.5 L1231.4,624.5 L1237.8,625.7 L1244.0,627.0 L1250.1,628.4 L1256.0,629.8 L1261.7,631.3 L1267.2,632.8 L1272.6,634.4 L1278.0,636.2 L1283.5,638.0 L1289.1,640.0 L1294.9,642.0 L1300.6,644.2 L1306.2,646.4 L1311.5,648.7 L1316.6,651.1 L1321.6,653.5 L1326.4,656.0 L1330.9,658.5 L1335.0,661.0 L1338.5,663.4 L1341.6,665.7 L1344.4,668.1 L1347.1,670.5 L1350.0,673.0 L1353.0,675.7 L1356.1,678.5 L1359.1,681.4 L1362.1,684.2 L1365.0,687.0 L1367.8,689.7 L1370.6,692.5 L1373.3,695.2 L1375.8,697.7 L1378.0,700.0 L1380.0,702.0 L1381.7,703.8 L1383.2,705.4 L1384.6,706.8 L1386.0,708.0 L1387.3,709.1 L1388.5,710.1 L1389.7,710.9 L1390.8,711.4 L1392.0,711.5 L1393.2,711.2 L1394.5,710.4 L1395.7,709.4 L1396.9,708.2 L1398.0,707.0 L1399.1,705.7 L1400.1,704.2 L1401.1,702.6 L1402.1,701.0 L1402.9,699.3 L1403.6,697.7 L1404.2,696.1 L1404.7,694.5 L1405.3,692.5 L1406.0,690.0 L1406.9,687.0 L1407.8,683.7 L1408.9,679.9 L1409.9,675.8 L1410.8,671.3 L1411.7,666.2 L1412.5,660.5 L1413.3,654.6 L1414.0,648.5 L1414.8,642.7 L1415.6,637.1 L1416.3,631.4 L1417.0,625.8 L1417.8,620.4 L1418.5,615.0 L1419.2,609.9 L1419.8,605.1 L1420.5,600.4 L1421.2,595.4 L1422.0,590.0 L1422.9,584.0 L1423.9,577.6 L1424.9,571.0 L1426.1,564.4 L1427.5,558.0 L1429.2,551.7 L1431.1,545.4 L1433.1,539.1 L1435.0,533.1 L1436.6,527.4 L1437.8,522.0 L1438.7,516.8 L1439.4,511.8 L1440.2,507.1 L1441.0,502.7 L1442.0,498.6 L1443.0,494.9 L1444.0,491.4 L1445.1,488.1 L1446.0,485.0 L1446.9,482.1 L1447.7,479.4 L1448.4,476.9 L1449.2,474.5 L1450.0,472.0 L1450.8,469.5 L1451.6,467.1 L1452.4,464.7 L1453.2,462.3 L1454.0,460.0 L1454.8,457.7 L1455.6,455.5 L1456.4,453.3 L1457.2,451.2 L1458.0,449.2 L1458.8,447.4 L1459.6,445.7 L1460.5,444.1 L1461.4,442.5 L1462.6,440.9 L1464.0,439.3 L1465.7,437.7 L1467.4,436.1 L1469.2,434.5 L1471.0,433.0 L1472.8,431.5 L1474.7,430.0 L1476.6,428.6 L1478.4,427.2 L1480.0,426.0 L1481.2,425.1 L1482.0,424.5 L1482.8,423.9 L1483.9,423.0 L1485.5,421.5 L1487.9,419.2 L1490.9,416.2 L1494.1,412.9 L1497.1,409.9 L1499.7,407.6 L1501.6,406.2 L1503.0,405.4 L1504.2,404.9 L1505.6,404.2 L1507.3,403.0 L1509.6,401.0 L1512.2,398.4 L1515.0,395.7 L1517.7,393.1 L1520.0,391.0 L1521.8,389.4 L1523.3,388.2 L1524.7,387.2 L1526.2,386.2 L1528.0,385.0 L1530.2,383.6 L1532.6,382.1 L1535.2,380.6 L1537.7,379.2 L1540.0,378.0 L1542.1,377.0 L1544.1,376.3 L1546.0,375.6 L1547.8,375.0 L1549.7,374.2 L1551.6,373.3 L1553.4,372.4 L1555.3,371.4 L1557.0,370.5 L1558.8,369.7 L1560.5,369.0 L1562.1,368.3 L1563.7,367.6 L1565.4,367.0 L1567.0,366.5 L1568.6,366.0 L1570.3,365.5 L1571.9,365.0 L1573.7,364.7 L1575.5,364.4 L1577.5,364.2 L1579.6,364.1 L1581.7,364.1 L1583.9,364.2 L1586.0,364.4 L1588.1,364.7 L1590.1,365.0 L1592.1,365.5 L1594.1,366.0 L1596.0,366.5 L1597.8,367.1 L1599.5,367.7 L1601.1,368.3 L1602.7,369.1 L1604.4,370.0 L1606.1,370.9 L1607.9,371.8 L1609.7,372.8 L1611.4,374.2 L1613.2,376.1 L1615.0,378.8 L1617.0,382.1 L1618.9,385.7 L1620.6,389.1 L1622.1,392.1 L1623.3,394.4 L1624.3,396.4 L1625.1,398.2 L1625.8,400.0 L1626.5,402.1 L1627.2,404.5 L1627.7,407.2 L1628.3,409.9 L1628.7,412.5 L1629.0,415.0 L1629.2,417.2 L1629.3,419.3 L1629.2,421.2 L1629.2,423.2 L1629.2,425.3 L1629.2,427.3 L1629.2,429.3 L1629.3,431.4 L1629.2,433.7 L1629.2,436.4 L1629.1,439.5 L1629.0,443.0 L1628.8,446.7 L1628.7,450.7 L1628.5,455.0 L1628.2,459.9 L1627.8,465.3 L1627.5,470.9 L1627.4,476.2 L1627.6,480.7 L1628.3,484.4 L1629.5,487.5 L1630.8,490.2 L1632.1,492.7 L1633.2,495.1 L1633.9,497.4 L1634.4,499.6 L1634.9,501.6 L1635.5,503.4 L1636.5,505.1 L1637.9,506.8 L1639.6,508.5 L1641.5,510.0 L1643.5,511.1 L1645.4,511.7 L1647.3,511.6 L1649.2,511.0 L1651.2,510.0 L1653.1,509.0 L1655.0,508.0 L1656.8,507.1 L1658.6,506.1 L1660.4,505.1 L1662.2,504.2 L1664.2,503.5 L1666.2,503.1 L1668.2,503.0 L1670.3,503.0 L1672.6,503.0 L1675.3,502.9 L1678.5,502.7 L1682.2,502.5 L1686.1,502.3 L1689.8,502.1 L1693.0,502.0 L1695.7,501.9 L1698.0,501.8 L1700.1,501.8 L1702.1,501.8 L1704.0,502.0 L1705.8,502.3 L1707.4,502.8 L1708.9,503.3 L1710.4,503.9 L1712.0,504.5 L1713.7,505.1 L1715.6,505.8 L1717.4,506.5 L1719.2,507.4 L1721.0,508.3 L1722.7,509.2 L1724.3,510.2 L1725.8,511.3 L1727.5,512.7 L1729.4,514.6 L1731.6,517.3 L1733.9,520.6 L1736.4,524.2 L1738.7,527.5 L1740.9,530.3 L1742.8,532.2 L1744.4,533.4 L1746.0,534.5 L1747.6,535.7 L1749.3,537.6 L1751.2,540.3 L1753.1,543.7 L1755.1,547.2 L1757.0,550.6 L1758.8,553.4 L1760.3,555.5 L1761.7,557.0 L1763.1,558.3 L1764.5,559.8 L1766.1,561.8 L1768.0,564.4 L1770.2,567.6 L1772.4,570.8 L1774.6,573.9 L1776.6,576.5 L1778.4,578.4 L1779.9,579.8 L1781.5,581.1 L1783.1,582.4 L1785.0,584.2 L1787.2,586.6 L1789.6,589.5 L1792.2,592.4 L1794.7,595.2 L1797.0,597.5 L1799.0,599.2 L1800.8,600.5 L1802.6,601.5 L1804.6,602.6 L1807.0,603.8 L1810.0,605.3 L1813.5,606.9 L1817.2,608.5 L1820.7,610.0 L1823.8,611.1 L1826.2,611.9 L1828.1,612.3 L1829.8,612.6 L1831.8,612.9 L1834.3,613.2 L1837.7,613.6 L1841.7,613.9 L1845.8,614.3 L1849.8,614.6 L1853.2,614.9 L1855.7,615.2 L1857.6,615.6 L1859.3,615.9 L1861.2,616.2 L1863.7,616.3 L1867.1,616.3 L1871.1,616.2 L1875.2,616.1 L1879.2,615.9 L1882.6,615.7 L1885.1,615.6 L1887.0,615.5 L1888.7,615.3 L1890.6,615.1 L1893.1,614.9 L1896.5,614.5 L1900.5,614.1 L1904.6,613.6 L1908.6,613.1 L1912.0,612.8 L1914.5,612.6 L1916.4,612.5 L1918.1,612.4 L1920.0,612.4 L1922.5,612.2 L1925.9,611.9 L1930.0,611.6 L1934.3,611.3 L1938.2,610.9 L1941.3,610.7 L1943.5,610.5 L1945.2,610.4 L1946.4,610.4 L1947.3,610.3 L1948.0,610.3" fill="none" stroke="#000000" stroke-width="2.8" stroke-linejoin="round" stroke-dasharray="12,17.8" stroke-dashoffset="5.7" clip-path="url(#cr)"/>
<path d="M1192.0,621.5 L1197.8,622.2 L1206.3,623.3 L1215.9,624.5 L1225.0,625.6 L1232.0,626.5 L1236.2,627.0 L1238.5,627.1 L1240.2,627.2 L1242.6,627.6 L1247.0,628.6 L1254.1,630.3 L1263.0,632.5 L1272.7,635.1 L1282.0,637.7 L1290.0,640.2 L1296.4,642.6 L1302.0,645.0 L1306.9,647.4 L1311.5,649.8 L1316.0,652.0 L1320.3,654.1 L1324.3,656.1 L1328.0,658.0 L1331.6,659.9 L1335.0,662.0 L1338.3,664.2 L1341.3,666.3 L1344.2,668.6 L1347.1,671.0 L1350.0,673.5 L1353.1,676.3 L1356.2,679.3 L1359.4,682.3 L1362.3,685.3 L1365.0,688.0 L1367.4,690.4 L1369.5,692.7 L1371.4,694.8 L1373.2,696.9 L1375.0,699.0 L1376.7,701.2 L1378.4,703.6 L1380.0,705.8 L1381.4,707.9 L1382.8,709.5 L1384.0,710.7 L1385.1,711.6 L1386.1,712.2 L1387.0,712.6 L1388.0,713.0 L1389.0,713.4 L1389.9,713.6 L1390.9,713.7 L1391.8,713.6 L1392.7,713.2 L1393.6,712.4 L1394.5,711.4 L1395.4,710.1 L1396.2,708.6 L1397.0,707.0 L1397.7,705.3 L1398.3,703.3 L1398.9,701.2 L1399.5,699.1 L1400.0,697.0 L1400.4,695.0 L1400.8,693.0 L1401.1,690.9 L1401.5,688.8 L1402.0,686.4 L1402.6,683.8 L1403.3,681.0 L1404.0,678.1 L1404.8,675.1 L1405.5,672.0 L1406.2,668.8 L1406.9,665.6 L1407.7,662.2 L1408.4,658.7 L1409.0,655.0 L1409.6,651.0 L1410.1,646.8 L1410.5,642.4 L1411.0,638.2 L1411.5,634.3 L1412.0,631.1 L1412.4,628.5 L1412.8,625.9 L1413.3,622.7 L1414.0,618.5 L1414.8,612.9 L1415.8,606.2 L1416.8,598.9 L1417.9,591.7 L1419.0,584.9 L1420.0,578.7 L1421.1,572.8 L1422.2,567.0 L1423.4,561.1 L1424.8,555.1 L1426.6,548.6 L1428.7,541.7 L1430.9,535.0 L1432.9,528.7 L1434.6,523.5 L1435.8,519.7 L1436.6,516.9 L1437.2,514.7 L1437.8,512.5 L1438.6,509.6 L1439.5,505.9 L1440.5,501.8 L1441.6,497.5 L1442.6,493.4 L1443.5,489.8 L1444.3,486.8 L1445.1,484.2 L1445.8,481.9 L1446.5,479.5 L1447.3,477.0 L1448.1,474.3 L1449.0,471.5 L1449.9,468.6 L1450.8,465.8 L1451.8,463.0 L1452.8,460.2 L1453.9,457.3 L1455.0,454.5 L1456.2,451.9 L1457.3,449.5 L1458.4,447.5 L1459.5,445.8 L1460.6,444.2 L1461.8,442.7 L1463.0,441.0 L1464.1,439.4 L1465.0,437.8 L1466.1,436.2 L1467.7,434.3 L1470.2,431.8 L1473.7,428.6 L1478.1,424.8 L1483.0,420.7 L1488.0,416.6 L1492.9,412.9 L1497.6,409.5 L1502.4,406.3 L1507.3,403.2 L1512.2,400.1 L1517.1,397.0 L1522.2,393.7 L1527.6,390.4 L1532.8,387.1 L1537.8,384.1 L1542.1,381.8 L1545.7,380.2 L1548.7,379.1 L1551.3,378.4 L1553.8,377.8 L1556.5,377.3 L1559.2,376.8 L1561.8,376.4 L1564.5,376.1 L1567.2,376.0 L1570.0,376.0 L1573.1,376.1 L1576.4,376.3 L1579.8,376.6 L1583.1,377.2 L1586.0,378.0 L1588.6,379.1 L1591.0,380.5 L1593.2,382.1 L1595.3,383.8 L1597.4,385.6 L1599.4,387.4 L1601.4,389.3 L1603.3,391.3 L1605.1,393.5 L1607.0,396.0 L1608.8,398.7 L1610.7,401.7 L1612.5,404.9 L1614.3,408.3 L1616.0,412.0 L1617.8,415.9 L1619.6,420.1 L1621.4,424.5 L1623.0,429.2 L1624.3,434.2 L1625.3,439.8 L1626.0,445.9 L1626.5,452.2 L1627.0,458.0 L1627.6,463.0 L1628.2,467.0 L1628.9,470.3 L1629.5,473.1 L1630.2,475.6 L1631.0,478.0 L1631.9,480.3 L1632.8,482.3 L1633.9,484.1 L1634.9,485.6 L1636.0,487.0 L1637.1,488.1 L1638.3,489.0 L1639.5,489.6 L1640.7,490.1 L1642.0,490.5 L1643.1,490.8 L1644.2,491.0 L1645.3,491.0 L1646.7,490.9 L1648.7,490.7 L1651.4,490.3 L1654.7,489.8 L1658.3,489.1 L1662.0,488.5 L1665.3,487.8 L1668.3,487.1 L1671.2,486.5 L1674.0,485.8 L1676.9,485.1 L1679.7,484.5 L1682.6,484.0 L1685.5,483.5 L1688.3,483.1 L1691.2,482.7 L1694.1,482.3 L1697.0,481.9 L1699.8,481.4 L1702.7,481.0 L1705.5,480.7 L1708.4,480.6 L1711.3,480.6 L1714.3,480.7 L1717.3,481.0 L1720.2,481.4 L1723.1,482.0 L1725.9,482.7 L1728.7,483.6 L1731.4,484.6 L1734.1,485.9 L1736.7,487.3 L1739.4,489.0 L1742.0,491.0 L1744.6,493.1 L1747.1,495.3 L1749.3,497.4 L1751.2,499.5 L1752.9,501.7 L1754.5,503.9 L1756.0,506.1 L1757.7,508.3 L1759.5,510.5 L1761.5,512.8 L1763.4,515.1 L1765.4,517.4 L1767.2,519.8 L1768.9,522.2 L1770.6,524.8 L1772.2,527.3 L1773.9,529.9 L1775.5,532.4 L1777.2,535.0 L1778.8,537.5 L1780.5,540.1 L1782.1,542.6 L1783.9,545.0 L1785.7,547.2 L1787.6,549.4 L1789.5,551.4 L1791.4,553.4 L1793.4,555.5 L1795.4,557.6 L1797.5,559.8 L1799.7,561.9 L1801.8,564.0 L1803.9,566.0 L1806.0,567.9 L1808.0,569.8 L1810.0,571.6 L1812.1,573.3 L1814.4,575.0 L1816.9,576.6 L1819.6,578.2 L1822.4,579.7 L1825.2,581.2 L1828.0,582.8 L1830.7,584.5 L1833.5,586.3 L1836.2,588.0 L1839.0,589.7 L1841.7,591.2 L1844.2,592.4 L1846.5,593.5 L1848.9,594.4 L1851.7,595.3 L1855.3,596.4 L1860.1,597.7 L1865.8,599.1 L1871.9,600.5 L1877.7,601.7 L1882.6,602.7 L1886.2,603.4 L1889.0,603.8 L1891.4,604.1 L1894.0,604.3 L1897.3,604.4 L1901.3,604.5 L1905.8,604.4 L1910.5,604.3 L1915.3,604.2 L1920.0,604.0 L1924.9,603.8 L1930.2,603.5 L1935.4,603.2 L1939.9,602.9 L1943.4,602.7 L1945.6,602.6 L1946.8,602.5 L1947.4,602.5 L1947.7,602.5 L1948.0,602.5" fill="none" stroke="#a52a2a" stroke-width="2.8" stroke-linejoin="round" stroke-dasharray="6,9" clip-path="url(#cr)"/>
<path d="M1191.0,619.8 L1196.1,620.2 L1203.4,620.8 L1211.6,621.4 L1219.6,622.1 L1225.8,622.7 L1230.0,623.3 L1233.2,623.8 L1235.7,624.4 L1238.0,625.0 L1240.7,625.6 L1243.5,626.2 L1246.0,626.7 L1248.6,627.3 L1251.9,628.1 L1256.1,629.1 L1261.9,630.6 L1269.0,632.4 L1276.5,634.3 L1283.6,636.2 L1289.3,637.9 L1293.4,639.3 L1296.4,640.6 L1298.9,641.9 L1301.1,643.1 L1303.6,644.3 L1306.2,645.5 L1308.7,646.7 L1311.1,647.9 L1313.8,649.2 L1316.7,650.7 L1320.1,652.4 L1324.0,654.3 L1327.9,656.3 L1331.7,658.3 L1335.0,660.0 L1337.8,661.4 L1340.2,662.6 L1342.4,663.7 L1344.5,665.0 L1346.7,666.5 L1348.9,668.3 L1351.1,670.4 L1353.3,672.6 L1355.5,674.9 L1357.7,677.1 L1360.0,679.4 L1362.3,681.7 L1364.6,684.0 L1366.9,686.3 L1369.0,688.5 L1371.1,690.6 L1373.1,692.7 L1375.0,694.8 L1376.8,696.7 L1378.5,698.5 L1380.0,700.1 L1381.3,701.6 L1382.6,703.0 L1383.8,704.3 L1385.0,705.5 L1386.2,706.7 L1387.5,708.0 L1388.7,709.1 L1389.9,709.9 L1391.0,710.3 L1392.1,710.2 L1393.1,709.7 L1394.1,708.8 L1395.1,707.8 L1396.0,706.5 L1396.9,705.0 L1397.7,703.2 L1398.5,701.2 L1399.3,699.1 L1400.0,697.0 L1400.7,695.0 L1401.3,693.0 L1401.8,690.9 L1402.4,688.8 L1403.0,686.4 L1403.6,683.9 L1404.3,681.2 L1405.0,678.4 L1405.6,675.5 L1406.3,672.4 L1407.0,669.2 L1407.6,665.8 L1408.3,662.4 L1408.9,658.7 L1409.5,655.0 L1410.1,651.0 L1410.6,646.7 L1411.2,642.4 L1411.7,638.2 L1412.2,634.3 L1412.7,631.1 L1413.1,628.5 L1413.6,625.9 L1414.1,622.7 L1414.8,618.5 L1415.6,612.9 L1416.6,606.2 L1417.6,598.9 L1418.7,591.7 L1419.8,584.9 L1420.9,578.7 L1421.9,572.8 L1423.0,567.0 L1424.2,561.1 L1425.7,555.1 L1427.5,548.6 L1429.7,541.7 L1431.9,535.0 L1433.9,528.7 L1435.6,523.5 L1436.8,519.7 L1437.6,516.9 L1438.2,514.7 L1438.8,512.5 L1439.6,509.6 L1440.5,505.9 L1441.6,501.8 L1442.6,497.5 L1443.6,493.4 L1444.5,489.8 L1445.3,486.9 L1446.0,484.4 L1446.7,482.1 L1447.4,479.8 L1448.2,477.3 L1449.0,474.5 L1449.9,471.6 L1450.8,468.7 L1451.7,465.7 L1452.7,462.9 L1453.7,460.1 L1454.7,457.2 L1455.8,454.5 L1456.9,451.9 L1458.0,449.5 L1459.1,447.5 L1460.3,445.7 L1461.4,444.0 L1462.7,442.5 L1464.0,441.0 L1465.2,439.7 L1466.1,438.8 L1467.3,437.8 L1469.0,436.3 L1471.7,434.1 L1475.8,430.7 L1481.0,426.4 L1486.7,421.7 L1492.2,417.3 L1496.7,413.6 L1500.1,410.9 L1502.8,408.8 L1505.1,407.0 L1507.2,405.3 L1509.5,403.4 L1511.8,401.3 L1514.1,399.1 L1516.2,397.0 L1518.5,394.7 L1520.9,392.4 L1523.5,389.8 L1526.1,387.0 L1528.8,384.2 L1531.6,381.6 L1534.5,379.5 L1537.5,377.9 L1540.5,376.8 L1543.6,375.8 L1546.7,375.0 L1549.7,374.2 L1552.6,373.3 L1555.3,372.5 L1558.1,371.8 L1560.9,371.1 L1563.7,370.5 L1566.6,369.9 L1569.4,369.3 L1572.3,368.8 L1575.3,368.4 L1578.5,368.2 L1582.0,368.0 L1585.8,367.9 L1589.7,367.9 L1593.4,368.2 L1596.7,368.9 L1599.5,370.1 L1602.1,371.6 L1604.4,373.5 L1606.6,375.5 L1608.8,377.7 L1611.1,380.1 L1613.3,382.6 L1615.5,385.4 L1617.5,388.2 L1619.3,391.0 L1620.8,393.8 L1622.0,396.5 L1623.1,399.3 L1624.2,402.3 L1625.4,405.4 L1626.8,408.8 L1628.3,412.3 L1629.8,416.0 L1631.1,419.6 L1632.1,423.1 L1632.7,426.4 L1632.9,429.5 L1633.0,432.6 L1633.0,435.6 L1633.2,438.6 L1633.5,441.5 L1633.8,444.3 L1634.1,447.1 L1634.4,450.0 L1634.7,453.0 L1634.8,456.3 L1634.9,459.7 L1635.0,463.3 L1635.1,466.6 L1635.4,469.6 L1635.9,472.2 L1636.4,474.4 L1637.1,476.4 L1637.9,478.5 L1638.7,480.7 L1639.7,483.3 L1641.0,486.1 L1642.3,488.8 L1643.4,491.2 L1644.2,492.9 L1645.3,493.1 L1646.8,493.5 L1648.7,493.9 L1650.8,494.2 L1653.1,494.4 L1655.7,494.5 L1658.6,494.5 L1661.7,494.5 L1664.9,494.3 L1668.0,494.0 L1671.0,493.4 L1673.9,492.6 L1676.9,491.7 L1679.9,490.8 L1683.0,490.0 L1686.4,489.3 L1690.0,488.7 L1693.7,488.1 L1697.1,487.6 L1700.0,487.2 L1702.4,487.0 L1704.4,486.8 L1706.2,486.8 L1707.8,486.8 L1709.4,487.0 L1710.8,487.2 L1711.9,487.5 L1713.0,488.0 L1714.3,488.6 L1716.0,489.5 L1718.2,490.8 L1720.9,492.4 L1723.7,494.2 L1726.6,496.0 L1729.4,497.8 L1732.0,499.2 L1734.4,500.4 L1736.9,501.7 L1739.7,503.5 L1743.0,506.2 L1747.1,510.2 L1751.9,515.4 L1756.9,520.9 L1761.4,526.1 L1765.0,530.3 L1767.3,533.2 L1768.7,535.3 L1769.6,537.0 L1770.6,538.8 L1772.0,541.0 L1773.8,543.8 L1775.8,547.0 L1777.9,550.2 L1780.3,553.5 L1782.9,556.5 L1785.9,559.3 L1789.3,562.1 L1792.8,564.8 L1796.5,567.4 L1800.0,570.0 L1803.5,572.6 L1806.9,575.2 L1810.4,577.8 L1813.9,580.2 L1817.5,582.5 L1821.2,584.7 L1824.9,586.7 L1828.6,588.6 L1832.5,590.4 L1836.4,592.0 L1840.6,593.4 L1845.0,594.7 L1849.4,595.8 L1853.6,596.7 L1857.4,597.5 L1860.6,598.0 L1863.4,598.4 L1865.9,598.5 L1868.4,598.7 L1871.0,598.9 L1873.1,599.2 L1874.7,599.4 L1876.5,599.6 L1879.5,599.9 L1884.7,600.2 L1893.2,600.6 L1904.4,601.1 L1916.6,601.6 L1927.7,602.0 L1936.1,602.3 L1941.2,602.5 L1944.3,602.5 L1946.0,602.5 L1947.0,602.5 L1948.0,602.5" fill="none" stroke="#0000ff" stroke-width="2.8" stroke-linejoin="round" stroke-dasharray="35.6,12,6,12" stroke-dashoffset="6.3" clip-path="url(#cr)"/>
<path d="M1191.0,627.5 L1194.9,627.9 L1200.5,628.3 L1207.0,628.9 L1213.7,629.6 L1220.0,630.3 L1225.8,631.1 L1231.6,631.9 L1237.4,632.9 L1243.2,633.9 L1249.0,635.0 L1254.9,636.2 L1260.9,637.6 L1266.8,639.0 L1272.6,640.5 L1278.0,642.0 L1283.0,643.5 L1287.6,645.1 L1292.1,646.7 L1296.5,648.5 L1301.0,650.3 L1305.8,652.4 L1310.8,654.6 L1315.7,656.9 L1320.2,659.1 L1324.0,661.0 L1326.7,662.5 L1328.7,663.8 L1330.2,664.9 L1331.9,666.1 L1334.0,667.6 L1336.8,669.4 L1339.9,671.5 L1343.2,673.7 L1346.4,675.9 L1349.3,678.0 L1351.8,680.1 L1354.1,682.1 L1356.3,684.1 L1358.4,686.2 L1360.6,688.2 L1362.9,690.3 L1365.1,692.3 L1367.4,694.4 L1369.7,696.5 L1372.0,698.5 L1374.4,700.7 L1377.0,703.0 L1379.5,705.3 L1381.9,707.2 L1384.0,708.6 L1385.7,709.4 L1387.2,709.7 L1388.5,709.7 L1389.8,709.4 L1391.0,709.0 L1392.3,708.5 L1393.5,707.7 L1394.7,706.8 L1395.8,705.7 L1396.8,704.5 L1397.8,703.2 L1398.6,701.9 L1399.4,700.4 L1400.2,698.7 L1401.0,697.0 L1401.7,695.1 L1402.5,693.1 L1403.1,691.0 L1403.8,688.8 L1404.5,686.4 L1405.2,683.9 L1405.9,681.2 L1406.6,678.4 L1407.3,675.5 L1408.0,672.4 L1408.7,669.2 L1409.4,665.8 L1410.1,662.3 L1410.8,658.7 L1411.5,655.0 L1412.2,651.1 L1412.9,647.1 L1413.7,643.0 L1414.4,639.0 L1415.0,635.2 L1415.6,631.7 L1416.1,628.4 L1416.5,625.3 L1417.0,622.0 L1417.5,618.5 L1418.0,614.9 L1418.4,611.2 L1418.9,607.3 L1419.4,603.2 L1420.2,598.7 L1421.2,593.7 L1422.3,588.2 L1423.5,582.5 L1424.8,576.7 L1426.2,571.0 L1427.7,565.4 L1429.2,559.7 L1430.9,554.1 L1432.5,548.6 L1434.0,543.3 L1435.5,538.3 L1436.9,533.5 L1438.3,528.8 L1439.7,524.2 L1441.0,519.5 L1442.3,514.6 L1443.5,509.6 L1444.8,504.6 L1445.9,499.9 L1447.0,495.7 L1448.0,492.1 L1448.8,488.9 L1449.6,486.0 L1450.5,483.1 L1451.5,480.0 L1452.6,476.6 L1453.8,473.1 L1455.0,469.6 L1456.4,466.2 L1458.0,462.9 L1459.9,459.8 L1461.9,456.8 L1464.2,453.9 L1466.4,451.1 L1468.6,448.5 L1470.5,446.3 L1472.0,444.5 L1473.8,442.7 L1476.0,440.6 L1479.2,437.9 L1483.8,434.2 L1489.6,429.8 L1495.9,425.2 L1501.7,420.9 L1506.5,417.4 L1509.8,415.0 L1512.3,413.3 L1514.3,411.9 L1516.2,410.7 L1518.6,409.1 L1521.5,407.1 L1524.6,405.0 L1527.7,402.9 L1530.9,400.9 L1533.8,399.2 L1536.5,397.8 L1538.9,396.7 L1541.3,395.8 L1543.9,394.9 L1546.7,393.9 L1550.2,392.8 L1554.2,391.7 L1558.2,390.7 L1561.7,389.7 L1564.1,389.1" fill="none" stroke="#00ff00" stroke-width="2.8" stroke-linejoin="round" stroke-dasharray="36,12,6,12,6,12" stroke-dashoffset="75.3" clip-path="url(#cr)"/>
<path d="M1564.1,389.1 L1566.2,389.1 L1569.3,389.1 L1572.8,389.1 L1576.1,389.2 L1578.9,389.4 L1580.9,389.7 L1582.6,390.0 L1584.1,390.5 L1585.5,391.0 L1587.0,391.5 L1588.6,392.0 L1590.2,392.4 L1591.8,393.0 L1593.4,393.8 L1595.2,395.0 L1597.2,396.8 L1599.4,398.9 L1601.6,401.4 L1603.6,403.9 L1605.5,406.5 L1607.0,409.0 L1608.4,411.6 L1609.6,414.3 L1610.7,417.1 L1612.0,420.0 L1613.4,423.1 L1614.9,426.4 L1616.4,429.8 L1617.7,433.1 L1618.8,436.4 L1619.6,439.5 L1620.2,442.5 L1620.6,445.5 L1621.0,448.6 L1621.6,451.9 L1622.3,455.5 L1623.1,459.4 L1624.0,463.3 L1624.8,467.2 L1625.4,470.7 L1625.9,473.8 L1626.3,476.6 L1626.6,479.3 L1626.9,482.1 L1627.2,485.1 L1627.6,488.7 L1627.9,492.6 L1628.2,496.6 L1628.7,500.1 L1629.2,502.9 L1629.7,504.8 L1630.3,505.9 L1630.9,506.7 L1631.9,507.2 L1633.2,507.7 L1634.9,508.2 L1637.0,508.4 L1639.3,508.5 L1642.0,508.6 L1645.0,508.5 L1648.5,508.4 L1652.4,508.1 L1656.5,507.8 L1660.8,507.4 L1665.0,507.0 L1669.2,506.5 L1673.5,506.0 L1677.8,505.4 L1682.0,504.9 L1686.0,504.5 L1689.9,504.2 L1693.7,503.9 L1697.4,503.7 L1700.9,503.6 L1704.0,503.5 L1706.7,503.5 L1708.9,503.6 L1711.0,503.8 L1713.2,504.0 L1715.7,504.3 L1718.8,504.7 L1722.2,505.2 L1725.7,505.7 L1729.1,506.2 L1732.0,506.7 L1734.2,507.0 L1736.0,507.2 L1737.6,507.5 L1739.5,507.9 L1742.0,508.7 L1745.5,510.0 L1749.7,511.6 L1754.1,513.5 L1758.4,515.3 L1761.9,517.1 L1764.3,518.5 L1766.0,519.7 L1767.4,521.0 L1769.4,522.7 L1772.4,525.1 L1777.0,528.6 L1782.8,533.0 L1789.1,537.8 L1795.0,542.3 L1799.7,546.0 L1803.0,548.8 L1805.5,550.9 L1807.4,552.8 L1809.3,554.6 L1811.6,556.5 L1814.3,558.7 L1817.1,560.9 L1819.9,563.1 L1822.7,565.2 L1825.4,567.2 L1827.8,568.9 L1829.9,570.5 L1832.1,572.0 L1834.5,573.6 L1837.5,575.4 L1841.5,577.7 L1846.2,580.4 L1851.1,583.0 L1855.4,585.4 L1858.4,587.0" fill="none" stroke="#00ff00" stroke-width="2.8" stroke-linejoin="round" stroke-dasharray="36,12,6,12,6,12" stroke-dashoffset="36" clip-path="url(#cr)"/>
<path d="M1858.4,587.0 L1871.0,592.6" fill="none" stroke="#00ff00" stroke-width="2.8" stroke-linejoin="round" stroke-dasharray="36,12,6,12,6,12" stroke-dashoffset="36" clip-path="url(#cr)"/>
<path d="M1871.0,592.6 L1875.9,594.1 L1883.0,596.3 L1890.9,598.8 L1898.6,601.0 L1904.6,602.7 L1908.6,603.6 L1911.6,604.1 L1913.9,604.4 L1916.1,604.5 L1918.8,604.8 L1922.1,605.2 L1925.5,605.5 L1929.1,605.9 L1932.5,606.2 L1935.6,606.5 L1938.6,606.8 L1941.5,607.0 L1944.1,607.2 L1946.4,607.4 L1948.0,607.5" fill="none" stroke="#00ff00" stroke-width="2.8" stroke-linejoin="round" stroke-dasharray="36,12,6,12,6,12" clip-path="url(#cr)"/>
<path d="M1191.0,626.1 L1194.9,626.5 L1200.5,627.0 L1207.0,627.6 L1213.7,628.3 L1220.0,629.1 L1225.8,629.9 L1231.6,630.7 L1237.5,631.7 L1243.3,632.7 L1249.1,633.8 L1255.0,635.0 L1261.0,636.4 L1267.0,637.8 L1272.7,639.3 L1278.2,640.8 L1283.2,642.3 L1288.0,643.9 L1292.5,645.5 L1297.0,647.2 L1301.6,649.0 L1306.5,651.0 L1311.6,653.3 L1316.5,655.6 L1321.1,657.7 L1324.9,659.4 L1327.7,660.6 L1329.8,661.4 L1331.5,662.0 L1333.1,662.7 L1335.0,663.7 L1337.2,665.1 L1339.6,666.6 L1342.0,668.4 L1344.3,670.1 L1346.7,671.9 L1349.0,673.7 L1351.3,675.5 L1353.7,677.4 L1356.0,679.3 L1358.3,681.2 L1360.7,683.2 L1363.1,685.1 L1365.5,687.2 L1367.8,689.1 L1370.0,691.1 L1372.1,693.1 L1374.1,695.1 L1375.9,697.0 L1377.7,698.8 L1379.3,700.4 L1380.7,701.8 L1381.9,703.0 L1382.9,704.0 L1384.0,704.9 L1385.1,705.7 L1386.3,706.3 L1387.5,706.8 L1388.6,707.1 L1389.8,707.2 L1391.0,707.2 L1392.2,707.0 L1393.4,706.7 L1394.6,706.1 L1395.7,705.4 L1396.8,704.5 L1397.8,703.3 L1398.8,702.0 L1399.7,700.4 L1400.6,698.7 L1401.4,696.9 L1402.2,695.0 L1402.9,693.1 L1403.6,691.0 L1404.2,688.8 L1404.9,686.4 L1405.6,683.9 L1406.3,681.2 L1407.0,678.4 L1407.7,675.5 L1408.4,672.4 L1409.1,669.2 L1409.8,665.8 L1410.5,662.3 L1411.2,658.7 L1411.9,655.0 L1412.6,651.1 L1413.3,647.1 L1414.1,643.0 L1414.8,639.0 L1415.4,635.2 L1416.0,631.7 L1416.5,628.4 L1417.0,625.3 L1417.5,622.0 L1418.0,618.5 L1418.5,614.9 L1418.9,611.2 L1419.4,607.3 L1419.9,603.2 L1420.7,598.7 L1421.7,593.7 L1422.8,588.2 L1424.0,582.5 L1425.3,576.7 L1426.7,571.0 L1428.2,565.4 L1429.8,559.7 L1431.4,554.1 L1433.1,548.6 L1434.6,543.3 L1436.1,538.3 L1437.5,533.5 L1438.9,528.8 L1440.2,524.2 L1441.5,519.5 L1442.8,514.6 L1444.1,509.7 L1445.3,504.8 L1446.4,500.1 L1447.5,495.7 L1448.4,491.7 L1449.3,488.1 L1450.0,484.6 L1450.8,481.3 L1451.5,478.0 L1452.2,474.8 L1452.8,471.7 L1453.5,468.7 L1454.2,465.8 L1455.0,463.0 L1455.9,460.2 L1456.8,457.5 L1457.8,454.9 L1459.0,452.4 L1460.3,450.0 L1461.8,447.7 L1463.5,445.6 L1465.3,443.5 L1467.2,441.5 L1469.4,439.4 L1471.8,437.3 L1474.4,435.2 L1477.2,433.1 L1480.1,431.0 L1483.0,428.8 L1485.9,426.5 L1489.0,424.0 L1492.1,421.6 L1495.1,419.1 L1498.2,416.7 L1501.2,414.3 L1504.2,412.0 L1507.3,409.7 L1510.3,407.4 L1513.3,405.3 L1516.3,403.3 L1519.4,401.4 L1522.4,399.6 L1525.5,397.8 L1528.5,396.2 L1531.5,394.7 L1534.5,393.2 L1537.6,391.9 L1540.6,390.6 L1543.6,389.4 L1546.6,388.3 L1549.7,387.3 L1552.7,386.4 L1555.8,385.5 L1558.8,384.8 L1561.9,384.2 L1565.1,383.6 L1568.3,383.2 L1571.3,382.8 L1573.9,382.6 L1576.2,382.5 L1578.1,382.7 L1579.9,382.9 L1581.5,383.1 L1583.0,383.3 L1584.4,383.4 L1585.6,383.6 L1586.7,383.7 L1587.8,384.0 L1589.0,384.3 L1590.4,384.8 L1591.8,385.3 L1593.2,385.9 L1594.6,386.7 L1596.0,387.5 L1597.3,388.5 L1598.5,389.5 L1599.7,390.7 L1600.9,391.9 L1602.0,393.0 L1603.1,394.1 L1604.1,395.1 L1605.1,396.2 L1606.1,397.3 L1607.0,398.5 L1607.8,399.6 L1608.5,400.7 L1609.2,401.9 L1610.0,403.4 L1611.0,405.5 L1612.4,408.3 L1614.0,411.8 L1615.7,415.5 L1617.3,419.4 L1618.8,423.1 L1620.1,426.6 L1621.2,430.2 L1622.3,433.7 L1623.3,437.3 L1624.3,440.8 L1625.3,444.4 L1626.2,448.0 L1627.1,451.6 L1627.9,455.2 L1628.7,458.6 L1629.5,461.8 L1630.2,465.0 L1630.8,468.0 L1631.5,471.0 L1632.1,474.1 L1632.7,477.3 L1633.2,480.5 L1633.7,483.6 L1634.3,486.7 L1634.9,489.6 L1635.6,492.4 L1636.3,495.1 L1637.0,497.6 L1637.8,499.9 L1638.7,501.8 L1639.6,503.2 L1640.6,504.3 L1641.7,505.1 L1642.9,505.7 L1644.2,506.2 L1645.7,506.7 L1647.2,507.0 L1648.9,507.3 L1650.8,507.3 L1653.1,507.3 L1655.8,507.1 L1658.8,506.7 L1662.1,506.3 L1665.4,505.7 L1668.6,505.1 L1671.7,504.4 L1674.7,503.7 L1677.7,502.9 L1680.9,502.1 L1684.1,501.3 L1687.6,500.5 L1691.4,499.7 L1695.1,498.9 L1698.7,498.3 L1701.8,497.8 L1704.4,497.5 L1706.5,497.4 L1708.5,497.4 L1710.4,497.5 L1712.6,497.8 L1715.0,498.2 L1717.5,498.6 L1720.1,499.2 L1722.7,500.0 L1725.2,500.9 L1727.7,502.0 L1730.1,503.3 L1732.6,504.8 L1735.1,506.4 L1737.8,508.3 L1740.6,510.5 L1743.5,512.9 L1746.5,515.5 L1749.5,518.2 L1752.5,520.9 L1755.4,523.5 L1758.3,526.1 L1761.2,528.7 L1764.1,531.5 L1767.2,534.5 L1770.4,537.8 L1773.7,541.4 L1777.1,545.1 L1780.5,548.8 L1783.9,552.3 L1787.3,555.6 L1790.6,558.9 L1794.0,562.1 L1797.3,565.2 L1800.7,568.1 L1804.0,570.9 L1807.3,573.5 L1810.6,576.0 L1814.0,578.4 L1817.5,580.7 L1821.1,583.0 L1824.8,585.1 L1828.6,587.2 L1832.5,589.2 L1836.4,591.2 L1840.5,593.2 L1844.6,595.2 L1848.9,597.2 L1853.2,599.0 L1857.4,600.6 L1861.6,602.0 L1865.8,603.1 L1870.0,604.1 L1874.2,605.0 L1878.4,605.9 L1882.6,606.7 L1886.8,607.4 L1891.0,608.0 L1895.2,608.5 L1899.4,609.0 L1903.5,609.5 L1907.5,609.8 L1911.5,610.2 L1915.8,610.5 L1920.4,610.7 L1925.9,610.9 L1932.3,611.0 L1938.6,611.0 L1944.1,611.1 L1948.0,611.1" fill="none" stroke="#ff00ff" stroke-width="2.8" stroke-linejoin="round" clip-path="url(#cr)"/>
<rect x="1191" y="102" width="757" height="632" fill="none" stroke="#000" stroke-width="2"/>
<text transform="translate(1786,144.3) scale(1.0,1.06)" text-anchor="end">experiments w/ endplates</text>
<text transform="translate(1786,179.9) scale(1.0,1.06)" text-anchor="end">experiments w/o endplates</text>
<text transform="translate(1786,215.5) scale(1.0,1.06)" text-anchor="end">WRLES Uzun Ma=0.2</text>
<text transform="translate(1786,251.10000000000002) scale(1.0,1.06)" text-anchor="end">WMLES Park Ma=0.2</text>
<text transform="translate(1786,286.70000000000005) scale(1.0,1.06)" text-anchor="end">WMLES Iyer Ma=0.1</text>
<text transform="translate(1786,322.3) scale(1.0,1.06)" text-anchor="end">SST CFL3D Ma=0.2</text>
<text transform="translate(1786,357.90000000000003) scale(1.0,1.06)" text-anchor="end">WA-WMLES Ma=0.2</text>
<path d="M1853.5,128.7h6.3v6.3h-6.3zM1856.2,131.8h1" fill="none" stroke="#ff0000" stroke-width="0.85"/>
<path d="M1853.6,167.4a3.05,3.05 0 1,0 6.10,0a3.05,3.05 0 1,0 -6.10,0M1856.2,167.4h1" fill="none" stroke="#00ffff" stroke-width="0.85"/>
<line x1="1807.8" y1="203.0" x2="1905.5" y2="203.0" stroke="#000000" stroke-width="3" stroke-dasharray="12,17.8"/>
<line x1="1807.8" y1="238.60000000000002" x2="1905.5" y2="238.60000000000002" stroke="#a52a2a" stroke-width="3" stroke-dasharray="6,9"/>
<line x1="1807.8" y1="274.20000000000005" x2="1905.5" y2="274.20000000000005" stroke="#0000ff" stroke-width="3" stroke-dasharray="35.6,12,6,12"/>
<line x1="1807.8" y1="309.8" x2="1905.5" y2="309.8" stroke="#00ff00" stroke-width="3" stroke-dasharray="36,12,6,12,6,12" stroke-dashoffset="66.3"/>
<line x1="1807.8" y1="345.40000000000003" x2="1905.5" y2="345.40000000000003" stroke="#ff00ff" stroke-width="3"/>
</svg></body></html>
